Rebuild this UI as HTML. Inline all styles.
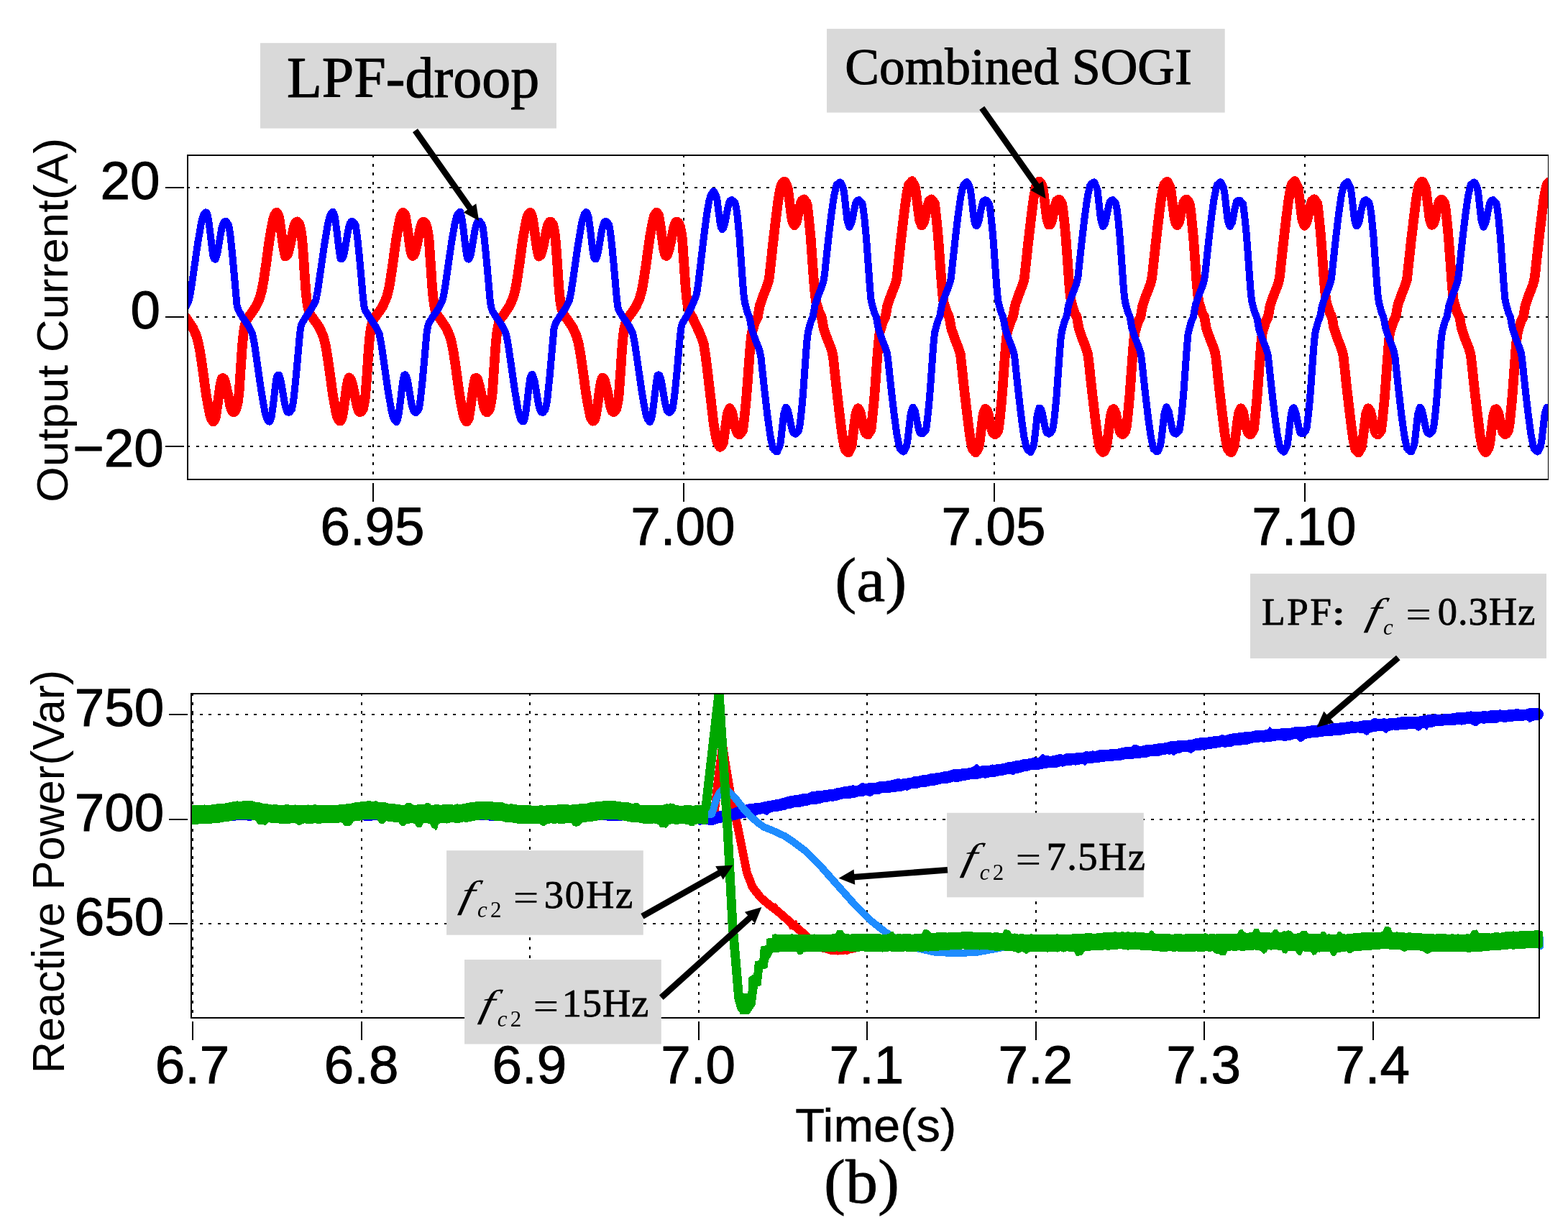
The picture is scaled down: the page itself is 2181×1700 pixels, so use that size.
<!DOCTYPE html>
<html lang="en"><head><meta charset="utf-8">
<title>Output current and reactive power waveforms</title>
<style>
html,body{margin:0;padding:0;background:#fff;}
body{width:2181px;height:1700px;}
svg{display:block;}
.sans{font-family:"Liberation Sans",Arial,Helvetica,sans-serif;fill:#000;}
.tl{stroke:#000;stroke-width:1;stroke-linejoin:round;}
.sb{stroke:#000;stroke-width:1.1;stroke-linejoin:round;}
.se{stroke:#000;stroke-width:0.8;stroke-linejoin:round;}
.serif{font-family:"Liberation Serif","Noto Serif CJK SC","Times New Roman",serif;fill:#000;}
.grid{stroke:#000;stroke-width:2;stroke-dasharray:4 8.6;fill:none;shape-rendering:crispEdges;}
.tick{stroke:#000;stroke-width:2;fill:none;shape-rendering:crispEdges;}
.box{stroke:#000;stroke-width:2;fill:none;shape-rendering:crispEdges;}
.lab{fill:#d9d9d9;}
</style></head><body>
<svg width="2181" height="1700" viewBox="0 0 2181 1700" role="img" aria-label="Output current and reactive power waveforms">
<rect width="2181" height="1700" fill="#fff"/>
<defs>
<clipPath id="ct"><rect x="261" y="215.9" width="1892.5" height="450.9"/></clipPath>
<clipPath id="cb"><rect x="266.2" y="965" width="1882.9" height="450.6"/></clipPath>
</defs>
<g id="plot-a">
<line class="grid" x1="519" y1="215" x2="519" y2="667"/>
<line class="grid" x1="951" y1="215" x2="951" y2="667"/>
<line class="grid" x1="1383" y1="215" x2="1383" y2="667"/>
<line class="grid" x1="1815" y1="215" x2="1815" y2="667"/>
<line class="grid" x1="260" y1="261" x2="2153" y2="261"/>
<line class="grid" x1="260" y1="441" x2="2153" y2="441"/>
<line class="grid" x1="260" y1="621" x2="2153" y2="621"/>
<g clip-path="url(#ct)" fill="none" stroke-linejoin="round" stroke-linecap="round" shape-rendering="crispEdges">
<polyline stroke="#ff0000" stroke-width="13.6" points="253,431.1 254.5,435.6 256,438.6 257.5,440.9 259,442.4 260.5,444.6 262,446.8 263.5,449 265,451.1 266.5,453.3 268,455.6 269.5,458.9 271,462.3 272.5,465.6 274,470.2 275.5,475.7 277,482.5 278.5,490.9 280,500.8 281.5,510.8 283,521.5 284.5,532.6 286,543.5 287.5,553.2 289,561.5 290.5,569.8 292,576.9 293.5,582 295,584.3 296.5,586.6 298,584.6 299.5,582.3 301,573.4 302.5,563.6 304,553 305.5,542.2 307,532.6 308.5,526.7 310,525.9 311.5,527 313,531.3 314.5,536.8 316,543.6 317.5,550.6 319,558.1 320.5,565.8 322,569.7 323.5,572.6 325,573.5 326.5,572.2 328,570.4 329.5,565.6 331,558.4 332.5,546.8 334,524.8 335.5,502.4 337,480.7 338.5,465.2 340,455.5 341.5,448.9 343,445.4 344.5,442.3 346,440.9 347.5,438.8 349,436.6 350.5,434.4 352,432.3 353.5,430.1 355,427.9 356.5,425.3 358,422 359.5,418.7 361,415.3 362.5,410.2 364,404.6 365.5,397.1 367,388.3 368.5,378.3 370,368.4 371.5,357.3 373,346.3 374.5,335.5 376,326.4 377.5,318.1 379,309.8 380.5,303.2 382,299.2 383.5,296.9 385,295.6 386.5,297.8 388,301.6 389.5,310.9 391,321 392.5,331.7 394,342.5 395.5,350.8 397,356.7 398.5,355.6 400,354.5 401.5,349 403,343.3 404.5,336.4 406,329.3 407.5,321.6 409,314.9 410.5,311.1 412,309 413.5,308.3 415,310.1 416.5,311.9 418,318.1 419.5,326.1 421,341.6 422.5,362.4 424,386 425.5,406.1 427,420.1 428.5,428.1 430,434.1 431.5,437.2 433,440.3 434.5,441.4 436,443.6 437.5,445.8 439,447.9 440.5,450.1 442,452.3 443.5,454.5 445,457.4 446.5,460.7 448,464 449.5,467.6 451,473.1 452.5,478.6 454,486.9 455.5,496.2 457,506.1 458.5,516.4 460,527.4 461.5,538.5 463,549.2 464.5,557.6 466,565.9 467.5,574 469,580.2 470.5,583.2 472,585.5 473.5,585.6 475,583.4 476.5,577.7 478,568.4 479.5,557.9 481,547.2 482.5,536.4 484,529.4 485.5,525.3 487,526.5 488.5,528.7 490,534.2 491.5,540.3 493,547.3 494.5,554.6 496,562.2 497.5,567.9 499,571.8 500.5,573.1 502,573 503.5,571.2 505,568.9 506.5,561.8 508,553 509.5,534.3 511,514 512.5,489.4 514,471.4 515.5,458.5 517,452 518.5,446.8 520,443.8 521.5,440.9 523,439.8 524.5,437.6 526,435.5 527.5,433.3 529,431.1 530.5,428.9 532,426.7 533.5,423.5 535,420.2 536.5,416.9 538,412.7 539.5,407.2 541,401 542.5,392.7 544,383 545.5,373 547,362.5 548.5,351.4 550,340.5 551.5,330.3 553,322 554.5,313.7 556,306.2 557.5,300.3 559,298 560.5,295.7 562,296.8 563.5,299 565,306.6 566.5,316 568,326.7 569.5,337.5 571,348.1 572.5,354 574,356.2 575.5,355 577,351.6 578.5,346.1 580,339.6 581.5,332.6 583,325.2 584.5,317.5 586,312.8 587.5,309.4 589,308.5 590.5,309.2 592,311.1 593.5,314.8 595,321.9 596.5,331.5 598,352.9 599.5,374.4 601,397.3 602.5,413.9 604,425 605.5,431.6 607,435.8 608.5,438.8 610,440.9 611.5,442.5 613,444.7 614.5,446.9 616,449.1 617.5,451.3 619,453.5 620.5,455.8 622,459.2 623.5,462.5 625,465.8 626.5,470.5 628,476.1 629.5,483 631,491.5 632.5,501.5 634,511.5 635.5,522.3 637,533.3 638.5,544.2 640,553.7 641.5,562 643,570.3 644.5,577.3 646,582.1 647.5,584.4 649,586.7 650.5,584.4 652,582 653.5,572.7 655,562.9 656.5,552.2 658,541.4 659.5,532.2 661,526.3 662.5,525.9 664,527.1 665.5,531.7 667,537.2 668.5,544 670,551 671.5,558.6 673,566.2 674.5,570 676,572.6 677.5,573.5 679,572.1 680.5,570.3 682,565.1 683.5,557.7 685,545.1 686.5,523.5 688,500.7 689.5,479.5 691,464.3 692.5,455 694,448.5 695.5,445.2 697,442.1 698.5,440.9 700,438.7 701.5,436.5 703,434.3 704.5,432.1 706,429.9 707.5,427.7 709,425.1 710.5,421.8 712,418.4 713.5,415.1 715,409.8 716.5,404.3 718,396.5 719.5,387.6 721,377.6 722.5,367.7 724,356.6 725.5,345.5 727,334.8 728.5,325.8 730,317.5 731.5,309.2 733,302.8 734.5,299.1 736,296.8 737.5,295.7 739,298 740.5,302.2 742,311.6 743.5,321.7 745,332.4 746.5,343.3 748,351.2 749.5,356.7 751,355.6 752.5,354.2 754,348.7 755.5,342.9 757,335.9 758.5,328.8 760,321.1 761.5,314.6 763,310.8 764.5,308.9 766,308.4 767.5,310.2 769,312 770.5,318.6 772,326.8 773.5,343.3 775,363.8 776.5,387.7 778,407.3 779.5,421 781,428.5 782.5,434.3 784,437.4 785.5,440.5 787,441.5 788.5,443.7 790,445.9 791.5,448.1 793,450.3 794.5,452.5 796,454.6 797.5,457.6 799,460.9 800.5,464.2 802,467.9 803.5,473.5 805,479.2 806.5,487.5 808,496.8 809.5,506.8 811,517.1 812.5,528.2 814,539.2 815.5,549.9 817,558.2 818.5,566.5 820,574.4 821.5,580.7 823,583.4 824.5,585.7 826,585.5 827.5,583.2 829,577.1 830.5,567.8 832,557.2 833.5,546.5 835,535.7 836.5,529 838,525.4 839.5,526.5 841,529.1 842.5,534.6 844,540.8 845.5,547.8 847,555.1 848.5,562.7 850,568.2 851.5,572 853,573.1 854.5,572.9 856,571.1 857.5,568.4 859,561.3 860.5,552.3 862,532.9 863.5,512.4 865,488.2 866.5,470.5 868,458.1 869.5,451.5 871,446.6 872.5,443.6 874,440.9 875.5,439.7 877,437.5 878.5,435.3 880,433.1 881.5,430.9 883,428.8 884.5,426.6 886,423.3 887.5,420 889,416.7 890.5,412.4 892,406.8 893.5,400.4 895,392.1 896.5,382.3 898,372.3 899.5,361.8 901,350.7 902.5,339.8 904,329.7 905.5,321.4 907,313.1 908.5,305.7 910,300.1 911.5,297.8 913,295.5 914.5,296.9 916,299.2 917.5,307.2 919,316.7 920.5,327.4 922,338.2 923.5,348.5 925,354.3 926.5,356.1 928,355 929.5,351.2 931,345.7 932.5,339.2 934,332.2 935.5,324.7 937,317 938.5,312.6 940,309.3 941.5,308.4 943,309.4 944.5,311.2 946,315.3 947.5,322.4 949,332.1 950.5,354.3 952,375.8 953.5,398.1 955,414.1 956.5,424.7 958,430.8 959.5,435.2 961,438.2 962.5,440.7 964,442.9 965.5,446.9 967,450 968.5,453.1 970,456.2 971.5,459.4 973,462.6 974.5,466.4 976,470.3 977.5,474.8 979,479.4 980.5,489.2 982,499.7 983.5,511.6 985,524.2 986.5,536.8 988,549.5 989.5,562.5 991,575.2 992.5,587.9 994,597.4 995.5,606.5 997,612.8 998.5,616.9 1000,620.3 1001.5,621.9 1003,620.8 1004.5,619 1006,615.8 1007.5,605.3 1009,594.6 1010.5,583.8 1012,574.8 1013.5,571.1 1015,568.1 1016.5,570.4 1018,572.8 1019.5,579.2 1021,586.7 1022.5,592.7 1024,598.3 1025.5,602.3 1027,603.4 1028.5,604.5 1030,603.1 1031.5,601 1033,598.9 1034.5,588.7 1036,575.1 1037.5,560.3 1039,542.9 1040.5,522.8 1042,502.4 1043.5,482.5 1045,467.6 1046.5,460.3 1048,455.6 1049.5,450.8 1051,446.3 1052.5,443.7 1054,441.1 1055.5,432.4 1057,424.4 1058.5,420.2 1060,416 1061.5,411.7 1063,407.8 1064.5,404 1066,400.3 1067.5,396 1069,391.2 1070.5,382.3 1072,367.9 1073.5,354.2 1075,340.4 1076.5,327.2 1078,314.6 1079.5,301.9 1081,290.1 1082.5,278.3 1084,269.3 1085.5,261.7 1087,256.6 1088.5,254.9 1090,253.2 1091.5,252.6 1093,255.5 1094.5,258.4 1096,262.7 1097.5,274.6 1099,286.4 1100.5,298.3 1102,307.3 1103.5,311.1 1105,313.4 1106.5,311 1108,308.6 1109.5,301.1 1111,293.5 1112.5,287.7 1114,282 1115.5,279.1 1117,278.1 1118.5,277.4 1120,279.5 1121.5,281.6 1123,285.6 1124.5,298.9 1126,313.7 1127.5,328.9 1129,349.4 1130.5,370.1 1132,391.1 1133.5,408.2 1135,419.7 1136.5,424.6 1138,429.4 1139.5,434.3 1141,437.4 1142.5,440.1 1144,447.3 1145.5,456.6 1147,460.9 1148.5,465.2 1150,469.5 1151.5,473.5 1153,477.2 1154.5,481 1156,485 1157.5,489.9 1159,497.4 1160.5,511.8 1162,525.6 1163.5,539.3 1165,552.7 1166.5,565.3 1168,578 1169.5,589.9 1171,601.7 1172.5,611.3 1174,618.9 1175.5,625 1177,626.6 1178.5,628.3 1180,629.7 1181.5,626.8 1183,623.8 1184.5,620.9 1186,609 1187.5,597.1 1189,585.2 1190.5,575.1 1192,571.3 1193.5,568 1195,570.4 1196.5,572.8 1198,579.6 1199.5,587.2 1201,593.2 1202.5,598.9 1204,602.5 1205.5,603.6 1207,604.7 1208.5,602.6 1210,600.5 1211.5,598.2 1213,584.9 1214.5,570.4 1216,555.2 1217.5,535.5 1219,514.8 1220.5,493.9 1222,475.9 1223.5,462.8 1225,458 1226.5,453.1 1228,448.2 1229.5,444.8 1231,442.1 1232.5,435.9 1234,426.5 1235.5,421.6 1237,417.3 1238.5,413 1240,408.9 1241.5,405.2 1243,401.4 1244.5,397.5 1246,392.6 1247.5,386.6 1249,372.2 1250.5,358.3 1252,344.5 1253.5,331 1255,318.4 1256.5,305.7 1258,293.7 1259.5,281.9 1261,271.6 1262.5,264 1264,257.1 1265.5,255.4 1267,253.7 1268.5,252 1270,254.6 1271.5,257.5 1273,260.5 1274.5,271 1276,282.9 1277.5,294.8 1279,306.1 1280.5,309.9 1282,313.7 1283.5,311.8 1285,309.4 1286.5,303.4 1288,295.8 1289.5,289.4 1291,283.7 1292.5,279.5 1294,278.4 1295.5,277.3 1297,278.9 1298.5,281 1300,283.1 1301.5,294.9 1303,309.1 1304.5,324.3 1306,343.2 1307.5,363.9 1309,384.8 1310.5,403.6 1312,418.2 1313.5,423.1 1315,428 1316.5,432.8 1318,436.6 1319.5,439.3 1321,444.5 1322.5,453.9 1324,459.6 1325.5,463.9 1327,468.2 1328.5,472.3 1330,476.1 1331.5,479.8 1333,483.6 1334.5,488.4 1336,493.3 1337.5,507.5 1339,521.5 1340.5,535.2 1342,548.8 1343.5,561.5 1345,574.2 1346.5,586.4 1348,598.2 1349.5,609 1351,616.7 1352.5,624.3 1354,626.1 1355.5,627.8 1357,629.5 1358.5,627.6 1360,624.7 1361.5,621.8 1363,612.6 1364.5,600.7 1366,588.8 1367.5,576.9 1369,572.4 1370.5,568.6 1372,569.7 1373.5,572.1 1375,577.3 1376.5,584.9 1378,591.5 1379.5,597.2 1381,602.2 1382.5,603.3 1384,604.3 1385.5,603.3 1387,601.1 1388.5,599 1390,588.8 1391.5,575 1393,559.8 1394.5,541.7 1396,521 1397.5,500.2 1399,480.4 1400.5,465.2 1402,459.4 1403.5,454.6 1405,449.7 1406.5,445.6 1408,442.9 1409.5,438.7 1411,429.3 1412.5,422.9 1414,418.6 1415.5,414.3 1417,410 1418.5,406.3 1420,402.5 1421.5,398.8 1423,394.1 1424.5,389.2 1426,376.5 1427.5,362.4 1429,348.7 1430.5,334.9 1432,322.2 1433.5,309.5 1435,297.2 1436.5,285.4 1438,273.9 1439.5,266.3 1441,258.7 1442.5,255.9 1444,254.2 1445.5,252.5 1447,253.7 1448.5,256.7 1450,259.6 1451.5,267.4 1453,279.3 1454.5,291.2 1456,303.1 1457.5,308.8 1459,312.6 1460.5,312.5 1462,310.1 1463.5,305.7 1465,298.1 1466.5,291.2 1468,285.5 1469.5,279.8 1471,278.7 1472.5,277.6 1474,278.2 1475.5,280.3 1477,282.5 1478.5,291 1480,304.5 1481.5,319.8 1483,337 1484.5,357.7 1486,378.5 1487.5,399.1 1489,414.3 1490.5,421.6 1492,426.5 1493.5,431.4 1495,435.8 1496.5,438.5 1498,441.7 1499.5,451.1 1501,458.3 1502.5,462.6 1504,466.9 1505.5,471.2 1507,475 1508.5,478.7 1510,482.5 1511.5,487 1513,491.9 1514.5,503.1 1516,517.4 1517.5,531.1 1519,544.8 1520.5,557.7 1522,570.4 1523.5,582.8 1525,594.6 1526.5,606.4 1528,614.4 1529.5,622 1531,625.6 1532.5,627.3 1534,629 1535.5,628.5 1537,625.6 1538.5,622.7 1540,616.2 1541.5,604.3 1543,592.4 1544.5,580.5 1546,573.6 1547.5,569.8 1549,569 1550.5,571.4 1552,575 1553.5,582.6 1555,589.8 1556.5,595.5 1558,601.2 1559.5,602.9 1561,604 1562.5,603.9 1564,601.8 1565.5,599.6 1567,592.8 1568.5,579.5 1570,564.3 1571.5,547.9 1573,527.2 1574.5,506.4 1576,485.5 1577.5,469.8 1579,460.9 1580.5,456 1582,451.1 1583.5,446.4 1585,443.7 1586.5,441.1 1588,432.1 1589.5,424.1 1591,419.8 1592.5,415.5 1594,411.2 1595.5,407.4 1597,403.7 1598.5,399.9 1600,395.6 1601.5,390.7 1603,380.8 1604.5,366.5 1606,352.8 1607.5,339.1 1609,326 1610.5,313.3 1612,300.7 1613.5,288.9 1615,277.2 1616.5,268.6 1618,261 1619.5,256.4 1621,254.7 1622.5,253 1624,252.9 1625.5,255.8 1627,258.7 1628.5,263.9 1630,275.7 1631.5,287.6 1633,299.5 1634.5,307.7 1636,311.5 1637.5,313.2 1639,310.8 1640.5,307.9 1642,300.3 1643.5,292.9 1645,287.2 1646.5,281.5 1648,279 1649.5,277.9 1651,277.6 1652.5,279.7 1654,281.8 1655.5,287 1657,300.3 1658.5,315.2 1660,330.8 1661.5,351.5 1663,372.2 1664.5,393.1 1666,409.7 1667.5,420.2 1669,425.1 1670.5,429.9 1672,434.8 1673.5,437.7 1675,440.3 1676.5,448.2 1678,457 1679.5,461.3 1681,465.6 1682.5,469.9 1684,473.8 1685.5,477.6 1687,481.3 1688.5,485.5 1690,490.4 1691.5,498.8 1693,513.2 1694.5,527 1696,540.7 1697.5,553.9 1699,566.6 1700.5,579.3 1702,591.1 1703.5,602.9 1705,612.1 1706.5,619.7 1708,625.1 1709.5,626.8 1711,628.5 1712.5,629.4 1714,626.5 1715.5,623.5 1717,619.7 1718.5,607.8 1720,595.9 1721.5,584.1 1723,574.7 1724.5,570.9 1726,568.2 1727.5,570.6 1729,573 1730.5,580.3 1732,587.9 1733.5,593.8 1735,599.5 1736.5,602.6 1738,603.7 1739.5,604.5 1741,602.4 1742.5,600.3 1744,596.8 1745.5,583.5 1747,568.9 1748.5,553.7 1750,533.4 1751.5,512.7 1753,491.8 1754.5,474.4 1756,462.3 1757.5,457.5 1759,452.6 1760.5,447.7 1762,444.5 1763.5,441.9 1765,435 1766.5,425.6 1768,421.1 1769.5,416.8 1771,412.5 1772.5,408.5 1774,404.8 1775.5,401 1777,397 1778.5,392.1 1780,385.2 1781.5,370.7 1783,356.9 1784.5,343.2 1786,329.8 1787.5,317.1 1789,304.4 1790.5,292.5 1792,280.7 1793.5,270.8 1795,263.2 1796.5,256.9 1798,255.2 1799.5,253.5 1801,252 1802.5,254.9 1804,257.8 1805.5,260.8 1807,272.2 1808.5,284.1 1810,296 1811.5,306.5 1813,310.3 1814.5,313.9 1816,311.5 1817.5,309.1 1819,302.6 1820.5,295 1822,288.9 1823.5,283.2 1825,279.4 1826.5,278.3 1828,277.2 1829.5,279.1 1831,281.2 1832.5,283.3 1834,296.3 1835.5,310.6 1837,325.9 1838.5,345.3 1840,366 1841.5,386.9 1843,405.2 1844.5,418.7 1846,423.6 1847.5,428.5 1849,433.3 1850.5,436.9 1852,439.5 1853.5,445.4 1855,454.8 1856.5,460 1858,464.3 1859.5,468.6 1861,472.7 1862.5,476.5 1864,480.2 1865.5,484 1867,488.9 1868.5,494.5 1870,508.9 1871.5,522.8 1873,536.6 1874.5,550.1 1876,562.8 1877.5,575.5 1879,587.5 1880.5,599.3 1882,609.8 1883.5,617.4 1885,624.6 1886.5,626.3 1888,628 1889.5,629.7 1891,627.3 1892.5,624.4 1894,621.5 1895.5,611.4 1897,599.5 1898.5,587.6 1900,575.8 1901.5,572 1903,568.2 1904.5,569.9 1906,572.3 1907.5,578 1909,585.6 1910.5,592.1 1912,597.8 1913.5,602.3 1915,603.4 1916.5,604.5 1918,603 1919.5,600.9 1921,598.8 1922.5,587.5 1924,573.4 1925.5,558.2 1927,539.6 1928.5,519 1930,498.1 1931.5,478.9 1933,463.8 1934.5,458.9 1936,454.1 1937.5,449.2 1939,445.3 1940.5,442.7 1942,437.8 1943.5,428.4 1945,422.4 1946.5,418.1 1948,413.8 1949.5,409.7 1951,405.9 1952.5,402.2 1954,398.4 1955.5,393.6 1957,388.7 1958.5,375.1 1960,361 1961.5,347.3 1963,333.6 1964.5,320.9 1966,308.2 1967.5,296 1969,284.2 1970.5,273.1 1972,265.5 1973.5,257.9 1975,255.7 1976.5,254.1 1978,252.4 1979.5,254 1981,256.9 1982.5,259.9 1984,268.6 1985.5,280.5 1987,292.4 1988.5,304.3 1990,309.2 1991.5,313 1993,312.2 1994.5,309.8 1996,304.9 1997.5,297.3 1999,290.6 2000.5,284.9 2002,279.7 2003.5,278.6 2005,277.5 2006.5,278.4 2008,280.6 2009.5,282.7 2011,292.3 2012.5,306.1 2014,321.3 2015.5,339.1 2017,359.7 2018.5,380.6 2020,400.6 2021.5,415.8 2023,422.1 2024.5,427 2026,431.9 2027.5,436.1 2029,438.7 2030.5,442.6 2032,452 2033.5,458.7 2035,463 2036.5,467.3 2038,471.6 2039.5,475.3 2041,479.1 2042.5,482.8 2044,487.5 2045.5,492.3 2047,504.6 2048.5,518.7 2050,532.5 2051.5,546.2 2053,559 2054.5,571.7 2056,584 2057.5,595.8 2059,607.5 2060.5,615.1 2062,622.7 2063.5,625.8 2065,627.5 2066.5,629.2 2068,628.2 2069.5,625.3 2071,622.4 2072.5,615 2074,603.1 2075.5,591.2 2077,579.3 2078.5,573.2 2080,569.4 2081.5,569.2 2083,571.6 2084.5,575.8 2086,583.4 2087.5,590.4 2089,596.1 2090.5,601.8 2092,603 2093.5,604.1 2095,603.7 2096.5,601.6 2098,599.4 2099.5,591.5 2101,578 2102.5,562.8 2104,545.8 2105.5,525.2 2107,504.3 2108.5,483.5 2110,468.3 2111.5,460.4 2113,455.5 2114.5,450.7 2116,446.1 2117.5,443.5 2119,440.6 2120.5,431.2 2122,423.7 2123.5,419.4 2125,415.1 2126.5,410.8 2128,407 2129.5,403.3 2131,399.5 2132.5,395.1 2134,390.2 2135.5,379.4 2137,365.1 2138.5,351.4 2140,337.7 2141.5,324.7 2143,312 2144.5,299.6 2146,287.8 2147.5,276 2149,267.8 2150.5,260.2 2152,256.3 2153.5,254.6 2155,252.9 2156.5,253.1 2158,256.1 2159.5,259 2161,265"/>
<polyline stroke="#0000ff" stroke-width="10" points="253,435.1 254.5,432.9 256,430.6 257.5,428.4 259,425.6 260.5,422.6 262,419.7 263.5,414.7 265,406.8 266.5,397.9 268,387.5 269.5,377.2 271,366.8 272.5,356.3 274,345.8 275.5,335.9 277,327.1 278.5,318.4 280,309.6 281.5,304.2 283,298.8 284.5,297.1 286,295.4 287.5,295.6 289,300.5 290.5,309.4 292,320.6 293.5,333.5 295,346.5 296.5,356.1 298,360.2 299.5,360.8 301,357 302.5,352.1 304,343.1 305.5,334.1 307,325.1 308.5,316.8 310,312.3 311.5,308.5 313,308.1 314.5,308 316,310 317.5,312 319,317.9 320.5,328.3 322,342.7 323.5,357.2 325,373.9 326.5,390.6 328,407.7 329.5,424.1 331,429.9 332.5,433.4 334,435.7 335.5,438.1 337,440.9 338.5,442.9 340,444.9 341.5,447.1 343,449.4 344.5,451.6 346,453.9 347.5,456.8 349,459.8 350.5,462.7 352,468.7 353.5,476.6 355,486 356.5,496.4 358,506.7 359.5,517.1 361,527.6 362.5,538 364,547.7 365.5,556.4 367,565.2 368.5,573.3 370,578.7 371.5,583.4 373,585.1 374.5,586.7 376,585.2 377.5,580.3 379,570.1 380.5,558.8 382,545.7 383.5,533 385,523.9 386.5,521.5 388,521.5 389.5,525.6 391,531.5 392.5,540.5 394,549.5 395.5,558.5 397,565.9 398.5,570.4 400,573.4 401.5,573.8 403,573.4 404.5,571.4 406,569.4 407.5,561.9 409,550.6 410.5,536.2 412,521.2 413.5,504.6 415,487.8 416.5,470.7 418,456.5 419.5,450.8 421,447.9 422.5,445.6 424,443.1 425.5,440.5 427,438.5 428.5,436.5 430,434.2 431.5,432 433,429.7 434.5,427.3 436,424.4 437.5,421.4 439,418.5 440.5,411.5 442,403.6 443.5,393.7 445,383.4 446.5,373 448,362.6 449.5,352.1 451,341.7 452.5,332.4 454,323.6 455.5,314.9 457,307.4 458.5,302 460,298.1 461.5,296.4 463,294.7 464.5,297.5 466,302.7 467.5,313.9 469,325.6 470.5,338.7 472,350.7 473.5,359.7 475,360.4 476.5,359.4 478,355.4 479.5,348.5 481,339.5 482.5,330.5 484,321.5 485.5,315 487,310.5 488.5,308.3 490,307.9 491.5,308.8 493,310.8 494.5,312.8 496,321.9 497.5,334 499,348.5 500.5,363.9 502,380.5 503.5,397.4 505,414.5 506.5,426.4 508,432 509.5,434.3 511,436.7 512.5,439.2 514,441.7 515.5,443.7 517,445.8 518.5,448 520,450.3 521.5,452.5 523,455 524.5,458 526,461 527.5,463.9 529,471.8 530.5,479.8 532,490.1 533.5,500.5 535,510.9 536.5,521.3 538,531.8 539.5,542.2 541,551.2 542.5,559.9 544,568.7 545.5,575.5 547,580.9 548.5,584.1 550,585.7 551.5,587.4 553,583.3 554.5,576.9 556,565.6 557.5,553.6 559,540.5 560.5,529.3 562,521.8 563.5,521.3 565,523.2 566.5,527.2 568,535.1 569.5,544.1 571,553.1 572.5,562.1 574,567.7 575.5,572.2 577,573.5 578.5,574 580,572.6 581.5,570.6 583,568 584.5,557.8 586,544.9 587.5,530.5 589,514.6 590.5,497.9 592,481 593.5,463.9 595,454.2 596.5,449.3 598,447 599.5,444.7 601,442 602.5,439.7 604,437.7 605.5,435.6 607,433.3 608.5,431.1 610,428.8 611.5,426.2 613,423.2 614.5,420.2 616,416.3 617.5,408.4 619,399.9 620.5,389.6 622,379.2 623.5,368.8 625,358.4 626.5,347.9 628,337.6 629.5,328.9 631,320.1 632.5,311.4 634,305.3 635.5,299.9 637,297.4 638.5,295.7 640,294.6 641.5,299.5 643,307.2 644.5,318.4 646,330.9 647.5,343.9 649,354.3 650.5,360.1 652,360.7 653.5,357.8 655,353.7 656.5,344.9 658,335.9 659.5,326.9 661,317.9 662.5,313.2 664,308.7 665.5,308.2 667,307.7 668.5,309.6 670,311.6 671.5,315.8 673,326 674.5,339.8 676,354.2 677.5,370.5 679,387.2 680.5,404.2 682,421.4 683.5,428.7 685,432.9 686.5,435.3 688,437.6 689.5,440.3 691,442.5 692.5,444.5 694,446.7 695.5,448.9 697,451.2 698.5,453.4 700,456.2 701.5,459.2 703,462.1 704.5,467.1 706,475 707.5,483.9 709,494.3 710.5,504.6 712,515 713.5,525.5 715,536 716.5,545.9 718,554.7 719.5,563.4 721,572.2 722.5,577.6 724,583 725.5,584.7 727,586.4 728.5,586.2 730,581.3 731.5,572.4 733,561.2 734.5,548.3 736,535.3 737.5,525.7 739,521.6 740.5,521 742,524.8 743.5,529.7 745,538.7 746.5,547.7 748,556.7 749.5,565 751,569.5 752.5,573.3 754,573.7 755.5,573.8 757,571.8 758.5,569.8 760,563.9 761.5,553.5 763,539.1 764.5,524.6 766,507.9 767.5,491.2 769,474.1 770.5,457.7 772,451.9 773.5,448.4 775,446.1 776.5,443.7 778,440.9 779.5,438.9 781,436.9 782.5,434.7 784,432.4 785.5,430.2 787,427.9 788.5,425 790,422 791.5,419.1 793,413.1 794.5,405.2 796,395.8 797.5,385.4 799,375.1 800.5,364.7 802,354.2 803.5,343.8 805,334.1 806.5,325.4 808,316.6 809.5,308.5 811,303.1 812.5,298.4 814,296.7 815.5,295.1 817,296.6 818.5,301.5 820,311.7 821.5,323 823,336.1 824.5,348.8 826,357.9 827.5,360.3 829,360.3 830.5,356.2 832,350.3 833.5,341.3 835,332.3 836.5,323.3 838,315.9 839.5,311.4 841,308.4 842.5,308 844,308.4 845.5,310.4 847,312.4 848.5,319.9 850,331.2 851.5,345.6 853,360.6 854.5,377.2 856,394 857.5,411.1 859,425.3 860.5,431 862,433.9 863.5,436.2 865,438.7 866.5,441.3 868,443.3 869.5,445.3 871,447.6 872.5,449.8 874,452.1 875.5,454.5 877,457.4 878.5,460.4 880,463.3 881.5,470.3 883,478.2 884.5,488.1 886,498.4 887.5,508.8 889,519.2 890.5,529.7 892,540.1 893.5,549.4 895,558.2 896.5,566.9 898,574.4 899.5,579.8 901,583.7 902.5,585.4 904,587.1 905.5,584.3 907,579.1 908.5,567.9 910,556.2 911.5,543.1 913,531.1 914.5,522.1 916,521.4 917.5,522.4 919,526.4 920.5,533.3 922,542.3 923.5,551.3 925,560.3 926.5,566.8 928,571.3 929.5,573.5 931,573.9 932.5,573 934,571 935.5,569 937,559.9 938.5,547.8 940,533.3 941.5,517.9 943,501.3 944.5,484.4 946,467.3 947.5,455.4 949,449.8 950.5,447.5 952,445.1 953.5,442.6 955,439.9 956.5,437.2 958,434.4 959.5,431.5 961,428.5 962.5,425.4 964,422.1 965.5,418.5 967,414.7 968.5,410.6 970,402.9 971.5,392.1 973,379.7 974.5,367.2 976,354.6 977.5,342.1 979,329.5 980.5,317.5 982,306.5 983.5,295.7 985,286.8 986.5,278.8 988,273.5 989.5,270.5 991,268 992.5,265.6 994,268.1 995.5,271.1 997,275 998.5,286.1 1000,298 1001.5,310 1003,316.4 1004.5,319.2 1006,317.7 1007.5,313.7 1009,307.5 1010.5,298.4 1012,290.5 1013.5,284.2 1015,279.6 1016.5,278.9 1018,278.2 1019.5,279.2 1021,280.8 1022.5,282.4 1024,288.2 1025.5,299.7 1027,314.1 1028.5,329.5 1030,350.2 1031.5,371.1 1033,392.2 1034.5,410.2 1036,421 1037.5,426.6 1039,432.3 1040.5,436.7 1042,439.7 1043.5,446.6 1045,456 1046.5,460.6 1048,464.9 1049.5,469.3 1051,473.3 1052.5,477.1 1054,480.8 1055.5,484.9 1057,489.8 1058.5,497.1 1060,511.6 1061.5,525.5 1063,539.3 1064.5,552.7 1066,565.5 1067.5,578.2 1069,589.2 1070.5,600 1072,609.6 1073.5,616.5 1075,623.4 1076.5,625.5 1078,626.8 1079.5,628 1081,628.4 1082.5,625.1 1084,621.9 1085.5,617.3 1087,604.1 1088.5,590.7 1090,577.1 1091.5,571.2 1093,566.7 1094.5,568.4 1096,571.2 1097.5,577.3 1099,585.3 1100.5,592.5 1102,598.8 1103.5,602.3 1105,603 1106.5,603.7 1108,602.3 1109.5,600.7 1111,599 1112.5,591.3 1114,579.8 1115.5,564.6 1117,548.2 1118.5,527.4 1120,506.5 1121.5,485.4 1123,468.2 1124.5,459.7 1126,454 1127.5,448.4 1129,444.5 1130.5,441.5 1132,433.3 1133.5,424.7 1135,420.3 1136.5,416 1138,411.7 1139.5,407.8 1141,404 1142.5,400.2 1144,395.9 1145.5,391 1147,381.8 1148.5,367.3 1150,353.5 1151.5,339.7 1153,326.5 1154.5,313.8 1156,301.2 1157.5,290.4 1159,279.6 1160.5,270.8 1162,263.9 1163.5,257.2 1165,256 1166.5,254.8 1168,253.5 1169.5,254.1 1171,257.3 1172.5,260.6 1174,267.2 1175.5,280.3 1177,293.8 1178.5,307 1180,311.5 1181.5,315.7 1183,312.8 1184.5,310 1186,302.9 1187.5,294.8 1189,288 1190.5,281.7 1192,279.3 1193.5,278.6 1195,278.2 1196.5,279.8 1198,281.5 1199.5,283.1 1201,292.8 1202.5,304.9 1204,320.2 1205.5,337.8 1207,358.5 1208.5,379.5 1210,400.1 1211.5,416.9 1213,423.3 1214.5,428.9 1216,434.6 1217.5,437.9 1219,440.9 1220.5,450.4 1222,458 1223.5,462.3 1225,466.7 1226.5,471 1228,474.8 1229.5,478.6 1231,482.3 1232.5,486.8 1234,491.7 1235.5,502.9 1237,517.2 1238.5,531 1240,544.8 1241.5,557.8 1243,570.6 1244.5,582.7 1246,593.5 1247.5,604.3 1249,612.3 1250.5,619.3 1252,624.8 1253.5,626 1255,627.3 1256.5,628.5 1258,627.1 1259.5,623.8 1261,620.6 1262.5,612 1264,598.9 1265.5,585.3 1267,573.9 1268.5,569.4 1270,566.7 1271.5,569.5 1273,572.4 1274.5,580.5 1276,588.6 1277.5,595.1 1279,601.4 1280.5,602.6 1282,603.3 1283.5,603.3 1285,601.6 1286.5,600 1288,598.2 1289.5,586.7 1291,573.8 1292.5,558.5 1294,539.9 1295.5,519.1 1297,498.1 1298.5,478.3 1300,463.1 1301.5,457.4 1303,451.8 1304.5,446.3 1306,443.3 1307.5,439 1309,429.6 1310.5,422.9 1312,418.6 1313.5,414.3 1315,410 1316.5,406.3 1318,402.5 1319.5,398.7 1321,394 1322.5,389.1 1324,376 1325.5,361.8 1327,348 1328.5,334.2 1330,321.4 1331.5,308.7 1333,296.9 1334.5,286.1 1336,275.3 1337.5,268.1 1339,261.1 1340.5,256.8 1342,255.5 1343.5,254.3 1345,253 1346.5,255.4 1348,258.6 1349.5,261.9 1351,272.4 1352.5,285.6 1354,299.3 1355.5,308.8 1357,313.3 1358.5,314.5 1360,311.7 1361.5,307.8 1363,299.7 1364.5,291.8 1366,285.5 1367.5,279.7 1369,279 1370.5,278.3 1372,278.8 1373.5,280.5 1375,282.1 1376.5,285.9 1378,297.4 1379.5,311.1 1381,326.4 1382.5,346.1 1384,366.9 1385.5,387.9 1387,406.8 1388.5,419.9 1390,425.5 1391.5,431.2 1393,436.1 1394.5,439.1 1396,444.7 1397.5,454.1 1399,459.7 1400.5,464.1 1402,468.4 1403.5,472.5 1405,476.3 1406.5,480.1 1408,483.9 1409.5,488.8 1411,494.2 1412.5,508.7 1414,522.7 1415.5,536.5 1417,550.2 1418.5,562.9 1420,575.7 1421.5,587.1 1423,597.8 1424.5,608.2 1426,615.1 1427.5,622 1429,625.3 1430.5,626.5 1432,627.8 1433.5,629 1435,625.8 1436.5,622.5 1438,619.3 1439.5,606.8 1441,593.5 1442.5,579.8 1444,572.1 1445.5,567.6 1447,567.8 1448.5,570.6 1450,575.6 1451.5,583.7 1453,591.3 1454.5,597.6 1456,602.2 1457.5,602.9 1459,603.6 1460.5,602.6 1462,601 1463.5,599.4 1465,593.6 1466.5,582.1 1468,567.7 1469.5,552.3 1471,531.6 1472.5,510.7 1474,489.6 1475.5,471.6 1477,460.8 1478.5,455.2 1480,449.5 1481.5,445.1 1483,442.1 1484.5,435.2 1486,425.8 1487.5,421.2 1489,416.9 1490.5,412.5 1492,408.5 1493.5,404.7 1495,401 1496.5,396.9 1498,392 1499.5,384.7 1501,370.2 1502.5,356.3 1504,342.5 1505.5,329.1 1507,316.3 1508.5,303.6 1510,292.6 1511.5,281.8 1513,272.2 1514.5,265.3 1516,258.4 1517.5,256.3 1519,255 1520.5,253.8 1522,253.4 1523.5,256.7 1525,259.9 1526.5,264.5 1528,277.7 1529.5,291.1 1531,304.7 1532.5,310.6 1534,315.1 1535.5,313.4 1537,310.6 1538.5,304.5 1540,296.5 1541.5,289.3 1543,283 1544.5,279.5 1546,278.8 1547.5,278.1 1549,279.5 1550.5,281.1 1552,282.8 1553.5,290.5 1555,302 1556.5,317.2 1558,333.6 1559.5,354.4 1561,375.3 1562.5,396.4 1564,413.6 1565.5,422.1 1567,427.8 1568.5,433.4 1570,437.3 1571.5,440.3 1573,448.5 1574.5,457.1 1576,461.5 1577.5,465.8 1579,470.1 1580.5,474 1582,477.8 1583.5,481.6 1585,485.9 1586.5,490.8 1588,500 1589.5,514.5 1591,528.3 1592.5,542.1 1594,555.3 1595.5,568 1597,580.6 1598.5,591.4 1600,602.2 1601.5,611 1603,617.9 1604.5,624.6 1606,625.8 1607.5,627 1609,628.3 1610.5,627.7 1612,624.5 1613.5,621.2 1615,614.6 1616.5,601.5 1618,588 1619.5,574.8 1621,570.3 1622.5,566.1 1624,569 1625.5,571.8 1627,578.9 1628.5,587 1630,593.8 1631.5,600.1 1633,602.5 1634.5,603.2 1636,603.6 1637.5,602 1639,600.3 1640.5,598.7 1642,589 1643.5,576.9 1645,561.6 1646.5,544 1648,523.3 1649.5,502.3 1651,481.7 1652.5,464.9 1654,458.5 1655.5,452.9 1657,447.2 1658.5,443.9 1660,440.9 1661.5,431.4 1663,423.8 1664.5,419.5 1666,415.1 1667.5,410.8 1669,407 1670.5,403.2 1672,399.5 1673.5,395 1675,390.1 1676.5,378.9 1678,364.6 1679.5,350.8 1681,337 1682.5,324 1684,311.2 1685.5,299.1 1687,288.3 1688.5,277.5 1690,269.5 1691.5,262.5 1693,257 1694.5,255.8 1696,254.5 1697.5,253.3 1699,254.7 1700.5,258 1702,261.2 1703.5,269.8 1705,282.9 1706.5,296.5 1708,307.9 1709.5,312.4 1711,315.1 1712.5,312.3 1714,309.4 1715.5,301.3 1717,293.2 1718.5,286.7 1720,280.4 1721.5,279.2 1723,278.5 1724.5,278.5 1726,280.2 1727.5,281.8 1729,283.6 1730.5,295.1 1732,308 1733.5,323.3 1735,341.9 1736.5,362.7 1738,383.7 1739.5,403.5 1741,418.7 1742.5,424.4 1744,430 1745.5,435.5 1747,438.5 1748.5,442.8 1750,452.2 1751.5,458.9 1753,463.2 1754.5,467.5 1756,471.8 1757.5,475.5 1759,479.3 1760.5,483.1 1762,487.8 1763.5,492.7 1765,505.8 1766.5,520 1768,533.8 1769.5,547.6 1771,560.4 1772.5,573.1 1774,584.9 1775.5,595.7 1777,606.5 1778.5,613.7 1780,620.7 1781.5,625 1783,626.3 1784.5,627.5 1786,628.8 1787.5,626.4 1789,623.2 1790.5,619.9 1792,609.4 1793.5,596.2 1795,582.5 1796.5,573 1798,568.5 1799.5,567.3 1801,570.1 1802.5,574 1804,582.1 1805.5,590 1807,596.3 1808.5,602.1 1810,602.8 1811.5,603.5 1813,603 1814.5,601.3 1816,599.7 1817.5,595.9 1819,584.4 1820.5,570.7 1822,555.4 1823.5,535.7 1825,514.9 1826.5,493.9 1828,475 1829.5,461.9 1831,456.3 1832.5,450.6 1834,445.7 1835.5,442.7 1837,437.1 1838.5,427.7 1840,422.1 1841.5,417.7 1843,413.4 1844.5,409.3 1846,405.5 1847.5,401.7 1849,397.9 1850.5,393 1852,387.6 1853.5,373.1 1855,359.1 1856.5,345.3 1858,331.6 1859.5,318.9 1861,306.1 1862.5,294.7 1864,284 1865.5,273.6 1867,266.7 1868.5,259.8 1870,256.5 1871.5,255.3 1873,254 1874.5,252.8 1876,256 1877.5,259.3 1879,262.5 1880.5,275 1882,288.3 1883.5,302 1885,309.7 1886.5,314.2 1888,314 1889.5,311.2 1891,306.2 1892.5,298.1 1894,290.5 1895.5,284.2 1897,279.6 1898.5,278.9 1900,278.2 1901.5,279.2 1903,280.8 1904.5,282.4 1906,288.2 1907.5,299.7 1909,314.1 1910.5,329.5 1912,350.2 1913.5,371.1 1915,392.2 1916.5,410.2 1918,421 1919.5,426.6 1921,432.3 1922.5,436.7 1924,439.7 1925.5,446.6 1927,456 1928.5,460.6 1930,464.9 1931.5,469.3 1933,473.3 1934.5,477.1 1936,480.8 1937.5,484.9 1939,489.8 1940.5,497.1 1942,511.6 1943.5,525.5 1945,539.3 1946.5,552.7 1948,565.5 1949.5,578.2 1951,589.2 1952.5,600 1954,609.6 1955.5,616.5 1957,623.4 1958.5,625.5 1960,626.8 1961.5,628 1963,628.4 1964.5,625.1 1966,621.9 1967.5,617.3 1969,604.1 1970.5,590.7 1972,577.1 1973.5,571.2 1975,566.7 1976.5,568.4 1978,571.2 1979.5,577.3 1981,585.3 1982.5,592.5 1984,598.8 1985.5,602.3 1987,603 1988.5,603.7 1990,602.3 1991.5,600.7 1993,599 1994.5,591.3 1996,579.8 1997.5,564.6 1999,548.2 2000.5,527.4 2002,506.5 2003.5,485.4 2005,468.2 2006.5,459.7 2008,454 2009.5,448.4 2011,444.5 2012.5,441.5 2014,433.3 2015.5,424.7 2017,420.3 2018.5,416 2020,411.7 2021.5,407.8 2023,404 2024.5,400.2 2026,395.9 2027.5,391 2029,381.8 2030.5,367.3 2032,353.5 2033.5,339.7 2035,326.5 2036.5,313.8 2038,301.2 2039.5,290.4 2041,279.6 2042.5,270.8 2044,263.9 2045.5,257.2 2047,256 2048.5,254.8 2050,253.5 2051.5,254.1 2053,257.3 2054.5,260.6 2056,267.2 2057.5,280.3 2059,293.8 2060.5,307 2062,311.5 2063.5,315.7 2065,312.8 2066.5,310 2068,302.9 2069.5,294.8 2071,288 2072.5,281.7 2074,279.3 2075.5,278.6 2077,278.2 2078.5,279.8 2080,281.5 2081.5,283.1 2083,292.8 2084.5,304.9 2086,320.2 2087.5,337.8 2089,358.5 2090.5,379.5 2092,400.1 2093.5,416.9 2095,423.3 2096.5,428.9 2098,434.6 2099.5,437.9 2101,440.9 2102.5,450.4 2104,458 2105.5,462.3 2107,466.7 2108.5,471 2110,474.8 2111.5,478.6 2113,482.3 2114.5,486.8 2116,491.7 2117.5,502.9 2119,517.2 2120.5,531 2122,544.8 2123.5,557.8 2125,570.6 2126.5,582.7 2128,593.5 2129.5,604.3 2131,612.3 2132.5,619.3 2134,624.8 2135.5,626 2137,627.3 2138.5,628.5 2140,627.1 2141.5,623.8 2143,620.6 2144.5,612 2146,598.9 2147.5,585.3 2149,573.9 2150.5,569.4 2152,566.7 2153.5,569.5 2155,572.4 2156.5,580.5 2158,588.6 2159.5,595.1 2161,601.4"/>
</g>
<line class="box" x1="260" y1="216" x2="2154" y2="216"/>
<line class="box" x1="260" y1="667" x2="2154" y2="667"/>
<line class="box" x1="261" y1="215" x2="261" y2="668"/>
<line class="box" x1="2153.5" y1="215" x2="2153.5" y2="668" style="stroke-width:1"/>
<line class="tick" x1="519" y1="672" x2="519" y2="698"/>
<line class="tick" x1="951" y1="672" x2="951" y2="698"/>
<line class="tick" x1="1383" y1="672" x2="1383" y2="698"/>
<line class="tick" x1="1815" y1="672" x2="1815" y2="698"/>
<line class="tick" x1="230" y1="261" x2="256" y2="261"/>
<line class="tick" x1="230" y1="441" x2="256" y2="441"/>
<line class="tick" x1="230" y1="621" x2="256" y2="621"/>
<text class="sans tl" font-size="74.6" text-anchor="middle" x="518" y="758.0">6.95</text>
<text class="sans tl" font-size="74.6" text-anchor="middle" x="949.9" y="758.0">7.00</text>
<text class="sans tl" font-size="74.6" text-anchor="middle" x="1382" y="758.0">7.05</text>
<text class="sans tl" font-size="74.6" text-anchor="middle" x="1813.8" y="758.0">7.10</text>
<text class="sans tl" font-size="74.6" text-anchor="end" x="222.5" y="276.7">20</text>
<text class="sans tl" font-size="74.6" text-anchor="end" x="223.1" y="457">0</text>
<text class="sans tl" font-size="74.6" text-anchor="end" x="227.8" y="648.9">−20</text>
<text class="sans" font-size="62" transform="translate(94 698.8) rotate(-90) scale(1.026 1)">Output Current<tspan font-size="64.6" dy="-0.8">(</tspan><tspan dy="0.8">A</tspan><tspan font-size="64.6" dy="-0.8">)</tspan></text>
</g>
<g id="plot-b">
<line class="grid" x1="268" y1="964" x2="268" y2="1416"/>
<line class="grid" x1="503" y1="964" x2="503" y2="1416"/>
<line class="grid" x1="737" y1="964" x2="737" y2="1416"/>
<line class="grid" x1="972" y1="964" x2="972" y2="1416"/>
<line class="grid" x1="1206" y1="964" x2="1206" y2="1416"/>
<line class="grid" x1="1441" y1="964" x2="1441" y2="1416"/>
<line class="grid" x1="1675" y1="964" x2="1675" y2="1416"/>
<line class="grid" x1="1910" y1="964" x2="1910" y2="1416"/>
<line class="grid" x1="265" y1="994" x2="2141" y2="994"/>
<line class="grid" x1="265" y1="1140" x2="2141" y2="1140"/>
<line class="grid" x1="265" y1="1285" x2="2141" y2="1285"/>
<g clip-path="url(#cb)" stroke-linejoin="round" stroke-linecap="round" shape-rendering="crispEdges">
<polyline fill="none" stroke="#ff0000" stroke-width="11.8" points="262,1133 990,1133 993.5,1132.6 1000,1076 1005.2,1037 1010,1068 1017,1110 1026.1,1150 1032.4,1181.8 1038.8,1213.6 1046.7,1234.2 1057.9,1248.5 1069,1258.1 1081.7,1267.6 1094.4,1278.7 1107.1,1289.8 1116.7,1297.8 1130,1310 1145,1319 1165,1322.5 1185,1320 1205,1314 1230,1311 1300,1311"/>
<polygon fill="#ff0000" points="1044,1221.3 1045.5,1224.9 1047,1228.1 1048.5,1229.7 1050,1231.6 1051.5,1233.6 1053,1235.5 1054.5,1237.6 1056,1239.6 1057.5,1241.6 1059,1243.3 1060.5,1244.7 1062,1246.2 1063.5,1247.1 1065,1248.1 1066.5,1249 1068,1250.3 1069.5,1251.5 1071,1252.6 1072.5,1254 1074,1255.3 1075.5,1256.6 1077,1256.8 1078.5,1256.3 1080,1256.9 1081.5,1258.8 1083,1261.8 1084.5,1264.3 1086,1265.8 1087.5,1267.2 1089,1268.7 1090.5,1269.8 1092,1270.9 1093.5,1271.9 1095,1273.1 1096.5,1274.3 1098,1275.5 1099.5,1277.1 1101,1278.8 1102.5,1280.5 1104,1281.3 1105.5,1280.7 1107,1279.5 1108.5,1281.1 1110,1284.7 1111.5,1287.8 1113,1289 1114.5,1290.3 1116,1291.5 1117.5,1292.9 1119,1294.4 1120.5,1295.9 1122,1296.7 1123.5,1297.4 1125,1298.1 1126.5,1299.7 1128,1301.2 1129.5,1302.7 1131,1303.7 1132.5,1304.5 1134,1305.3 1135.5,1306.4 1137,1307.4 1138.5,1308.5 1140,1309.8 1141.5,1311 1143,1312.3 1144.5,1313 1146,1313.3 1147.5,1313.3 1149,1313.5 1150.5,1313.6 1152,1313.8 1153.5,1314.3 1155,1314.8 1156.5,1315.3 1158,1315 1159.5,1314.7 1161,1314.4 1162.5,1315 1164,1315.7 1165.5,1316.2 1167,1316.1 1168.5,1316.1 1170,1316 1171.5,1315.4 1173,1314.7 1174.5,1314.1 1176,1314.4 1177.5,1314.6 1179,1314.9 1180.5,1314.2 1182,1313.4 1183.5,1312.7 1185,1312.8 1186.5,1312.7 1188,1312.6 1189.5,1312 1191,1311.5 1192.5,1311 1194,1310.7 1195.5,1310.4 1197,1310 1198.5,1309.5 1200,1308.9 1200,1320.8 1198.5,1321.2 1197,1321.7 1195.5,1322.4 1194,1323.2 1192.5,1323.9 1191,1324.4 1189.5,1324.8 1188,1325.2 1186.5,1325.7 1185,1326.2 1183.5,1326.4 1182,1326.3 1180.5,1327.5 1179,1328.7 1177.5,1328 1176,1327.3 1174.5,1327.8 1173,1327.9 1171.5,1328 1170,1328 1168.5,1328.2 1167,1328.3 1165.5,1328.5 1164,1328.4 1162.5,1328.1 1161,1327.9 1159.5,1328 1158,1328 1156.5,1328.1 1155,1327.7 1153.5,1327.2 1152,1326.8 1150.5,1326.1 1149,1325.5 1147.5,1324.8 1146,1324.5 1144.5,1324 1143,1323 1141.5,1322.4 1140,1321.7 1138.5,1321.1 1137,1320.6 1135.5,1320.1 1134,1319.6 1132.5,1318.3 1131,1317 1129.5,1315.6 1128,1314.3 1126.5,1312.9 1125,1311.6 1123.5,1310.2 1122,1308.8 1120.5,1307.3 1119,1306 1117.5,1304.7 1116,1303.4 1114.5,1302.5 1113,1301.5 1111.5,1300.6 1110,1299.4 1108.5,1298.2 1107,1297 1105.5,1295.2 1104,1293.4 1102.5,1291.6 1101,1292.2 1099.5,1293.4 1098,1292.5 1096.5,1288.8 1095,1285.8 1093.5,1284.2 1092,1282.7 1090.5,1281.1 1089,1279.6 1087.5,1278.7 1086,1277.7 1084.5,1276.8 1083,1275.4 1081.5,1274 1080,1272.8 1078.5,1271.8 1077,1270.8 1075.5,1269.8 1074,1268.6 1072.5,1267.5 1071,1266.4 1069.5,1265.3 1068,1264.2 1066.5,1263 1065,1261.7 1063.5,1260.4 1062,1259.2 1060.5,1257.4 1059,1255.6 1057.5,1253.6 1056,1252 1054.5,1250.5 1053,1249 1051.5,1246.7 1050,1244.4 1048.5,1242.1 1047,1240.6 1045.5,1237.5 1044,1234"/>
<polygon fill="#0000ff" points="262,1125.5 266,1125.5 270,1125.4 274,1125.4 278,1125.4 282,1125.4 286,1125.4 290,1125.5 294,1125.7 298,1125.8 302,1125.8 306,1125.9 310,1125.9 314,1125.8 318,1125.7 322,1125.6 326,1125.6 330,1125.7 334,1125.7 338,1125.6 342,1125.4 346,1125.3 350,1125.3 354,1125.3 358,1125.4 362,1125.4 366,1125.4 370,1125.4 374,1125.4 378,1125.5 382,1125.5 386,1125.4 390,1125.4 394,1125.4 398,1125.5 402,1125.7 406,1125.8 410,1125.7 414,1125.6 418,1125.6 422,1125.6 426,1125.7 430,1125.8 434,1125.6 438,1125.4 442,1125.1 446,1125.4 450,1125.6 454,1125.8 458,1125.6 462,1125.4 466,1125.2 470,1125.4 474,1125.5 478,1125.7 482,1125.6 486,1125.4 490,1125.2 494,1125.3 498,1125.4 502,1125.5 506,1125.5 510,1125.4 514,1125.4 518,1125.3 522,1125.1 526,1125 530,1125.2 534,1125.4 538,1125.7 542,1125.6 546,1125.6 550,1125.6 554,1125.4 558,1125.1 562,1124.9 566,1125 570,1125.1 574,1125.2 578,1125.3 582,1125.4 586,1125.5 590,1125.3 594,1125.1 598,1124.8 602,1124.9 606,1124.9 610,1124.9 614,1125.1 618,1125.4 622,1125.6 626,1125.5 630,1125.5 634,1125.4 638,1125.5 642,1125.6 646,1125.7 650,1125.6 654,1125.6 658,1125.5 662,1125.5 666,1125.4 670,1125.3 674,1125.5 678,1125.6 682,1125.7 686,1125.6 690,1125.5 694,1125.3 698,1125.5 702,1125.7 706,1125.9 710,1125.9 714,1125.8 718,1125.8 722,1125.7 726,1125.5 730,1125.3 734,1125.5 738,1125.6 742,1125.7 746,1125.7 750,1125.7 754,1125.7 758,1125.6 762,1125.6 766,1125.5 770,1125.5 774,1125.6 778,1125.6 782,1125.6 786,1125.6 790,1125.6 794,1125.7 798,1125.8 802,1125.9 806,1125.7 810,1125.5 814,1125.3 818,1125.3 822,1125.2 826,1125.1 830,1125.1 834,1125.1 838,1125.1 842,1125.2 846,1125.2 850,1125.3 854,1125.4 858,1125.5 862,1125.5 866,1125.5 870,1125.5 874,1125.5 878,1125.4 882,1125.3 886,1125.2 890,1125.2 894,1125.2 898,1125.2 902,1125.4 906,1125.5 910,1125.7 914,1125.6 918,1125.6 922,1125.6 926,1125.5 930,1125.5 934,1125.4 938,1125.4 942,1125.4 946,1125.3 950,1125.2 954,1125.1 958,1125.1 962,1125.1 966,1126.4 970,1127.6 970,1143.4 966,1142.4 962,1141.3 958,1141.5 954,1141.5 950,1141.5 946,1141.5 942,1141.4 938,1141.4 934,1141.3 930,1141.5 926,1141.6 922,1141.7 918,1141.5 914,1141.3 910,1141.2 906,1141.3 902,1141.5 898,1141.7 894,1141.5 890,1141.4 886,1141.2 882,1141.2 878,1141.2 874,1141.1 870,1141.3 866,1141.5 862,1141.7 858,1141.8 854,1141.8 850,1141.8 846,1141.6 842,1141.4 838,1141.3 834,1141.4 830,1141.5 826,1141.6 822,1141.6 818,1141.5 814,1141.5 810,1141.5 806,1141.5 802,1141.5 798,1141.5 794,1141.4 790,1141.3 786,1141.4 782,1141.6 778,1141.7 774,1141.7 770,1141.8 766,1141.9 762,1141.9 758,1141.8 754,1141.8 750,1141.7 746,1141.6 742,1141.5 738,1141.4 734,1141.3 730,1141.2 726,1141.3 722,1141.5 718,1141.6 714,1141.7 710,1141.8 706,1141.9 702,1141.9 698,1141.9 694,1141.9 690,1141.8 686,1141.7 682,1141.6 678,1141.4 674,1141.2 670,1141.1 666,1141 662,1141 658,1141 654,1141.1 650,1141.1 646,1141.2 642,1141.2 638,1141.2 634,1141.2 630,1141.3 626,1141.4 622,1141.5 618,1141.4 614,1141.2 610,1141.1 606,1141 602,1140.9 598,1140.8 594,1141.1 590,1141.3 586,1141.5 582,1141.5 578,1141.4 574,1141.4 570,1141.3 566,1141.1 562,1141 558,1141 554,1141.1 550,1141.1 546,1141.3 542,1141.5 538,1141.6 534,1141.4 530,1141.2 526,1141 522,1141.2 518,1141.5 514,1141.7 510,1141.6 506,1141.5 502,1141.3 498,1141.5 494,1141.6 490,1141.7 486,1141.6 482,1141.5 478,1141.4 474,1141.3 470,1141.3 466,1141.2 462,1141.2 458,1141.2 454,1141.2 450,1141.3 446,1141.4 442,1141.4 438,1141.3 434,1141.2 430,1141.1 426,1141.3 422,1141.5 418,1141.6 414,1141.5 410,1141.5 406,1141.4 402,1141.4 398,1141.4 394,1141.3 390,1141.3 386,1141.2 382,1141.1 378,1141.3 374,1141.5 370,1141.7 366,1141.5 362,1141.4 358,1141.3 354,1141.4 350,1141.5 346,1141.6 342,1141.4 338,1141.3 334,1141.2 330,1141.4 326,1141.6 322,1141.7 318,1141.6 314,1141.5 310,1141.4 306,1141.4 302,1141.4 298,1141.5 294,1141.4 290,1141.3 286,1141.3 282,1141.4 278,1141.4 274,1141.5 270,1141.5 266,1141.5 262,1141.5"/>
<polygon fill="#0000ff" points="966,1126.8 967.5,1127.2 969,1127.6 970.5,1127.9 972,1128.1 973.5,1128.4 975,1128.6 976.5,1129.3 978,1129.9 979.5,1130.6 981,1130.8 982.5,1130.9 984,1131.1 985.5,1131.2 987,1131.3 988.5,1131.3 990,1131.1 991.5,1131 993,1130.8 994.5,1130.3 996,1129.8 997.5,1129.3 999,1128.9 1000.5,1128.4 1002,1128 1003.5,1127.6 1005,1127.1 1006.5,1126.7 1008,1126.7 1009.5,1126.8 1011,1126.8 1012.5,1126.3 1014,1125.9 1015.5,1125.4 1017,1125.2 1018.5,1124.9 1020,1124.7 1021.5,1123.9 1023,1123.2 1024.5,1122.5 1026,1122.2 1027.5,1121.9 1029,1121.6 1030.5,1121.7 1032,1121.7 1033.5,1121.7 1035,1120.9 1036.5,1120 1038,1119.2 1039.5,1118.9 1041,1118.5 1042.5,1118.2 1044,1118.1 1045.5,1118 1047,1117.8 1048.5,1117.6 1050,1117.3 1051.5,1117 1053,1117 1054.5,1116.9 1056,1116.9 1057.5,1116.6 1059,1116.4 1060.5,1116.2 1062,1115.6 1063.5,1115.1 1065,1114.5 1066.5,1114.5 1068,1114.4 1069.5,1114.4 1071,1114 1072.5,1113.7 1074,1113.3 1075.5,1113 1077,1112.7 1078.5,1112.3 1080,1112.1 1081.5,1112 1083,1111.8 1084.5,1111.3 1086,1110.7 1087.5,1110.2 1089,1109.9 1090.5,1109.6 1092,1109.2 1093.5,1108.7 1095,1108.2 1096.5,1107.6 1098,1107.5 1099.5,1107.4 1101,1107.3 1102.5,1106.9 1104,1106.6 1105.5,1106.3 1107,1106.1 1108.5,1105.9 1110,1105.7 1111.5,1105.3 1113,1105 1114.5,1104.6 1116,1104.4 1117.5,1104.3 1119,1104.1 1120.5,1103.9 1122,1103.7 1123.5,1103.6 1125,1102.9 1126.5,1102.2 1128,1101.6 1129.5,1101.3 1131,1101 1132.5,1100.8 1134,1100.6 1135.5,1100.4 1137,1100.2 1138.5,1100 1140,1099.8 1141.5,1099.6 1143,1099.5 1144.5,1099.5 1146,1099.4 1147.5,1099.2 1149,1099 1150.5,1098.8 1152,1098.6 1153.5,1098.3 1155,1098.1 1156.5,1097.9 1158,1097.8 1159.5,1097.7 1161,1097.1 1162.5,1096.5 1164,1095.9 1165.5,1095.9 1167,1095.8 1168.5,1095.8 1170,1095.3 1171.5,1094.9 1173,1094.4 1174.5,1094.4 1176,1094.4 1177.5,1094.4 1179,1093.9 1180.5,1093.4 1182,1092.8 1183.5,1092.7 1185,1092.5 1186.5,1092.3 1188,1092.5 1189.5,1092.8 1191,1093 1192.5,1092.6 1194,1091.9 1195.5,1090.9 1197,1089.9 1198.5,1089.1 1200,1088.7 1201.5,1089.1 1203,1089.8 1204.5,1090.2 1206,1089.7 1207.5,1089.2 1209,1088.7 1210.5,1088.8 1212,1088.9 1213.5,1089 1215,1089 1216.5,1088.9 1218,1088.9 1219.5,1088.4 1221,1087.9 1222.5,1087.3 1224,1087 1225.5,1086.8 1227,1086.5 1228.5,1086.5 1230,1086.6 1231.5,1086.6 1233,1086.5 1234.5,1086.4 1236,1086.3 1237.5,1085.9 1239,1085.6 1240.5,1085.3 1242,1084.7 1243.5,1084.2 1245,1083.6 1246.5,1083.5 1248,1083.4 1249.5,1083.3 1251,1083.4 1252.5,1083.6 1254,1083.7 1255.5,1083.4 1257,1083.1 1258.5,1082.8 1260,1082.7 1261.5,1082.6 1263,1082.4 1264.5,1082.2 1266,1082 1267.5,1081.8 1269,1081.1 1270.5,1080.4 1272,1079.8 1273.5,1079.8 1275,1079.9 1276.5,1080 1278,1079.5 1279.5,1079 1281,1078.6 1282.5,1078.4 1284,1078.2 1285.5,1078 1287,1077.8 1288.5,1077.7 1290,1077.6 1291.5,1077 1293,1076.5 1294.5,1075.9 1296,1076 1297.5,1076 1299,1076.1 1300.5,1075.5 1302,1075 1303.5,1074.5 1305,1074.5 1306.5,1074.5 1308,1074.5 1309.5,1074.1 1311,1073.7 1312.5,1073.2 1314,1073.1 1315.5,1072.9 1317,1072.8 1318.5,1072.5 1320,1072.2 1321.5,1071.9 1323,1071.3 1324.5,1070.7 1326,1070.1 1327.5,1070 1329,1069.9 1330.5,1069.8 1332,1069.8 1333.5,1069.9 1335,1070 1336.5,1069.5 1338,1069 1339.5,1068.5 1341,1068.6 1342.5,1068.8 1344,1069 1345.5,1068.7 1347,1068.4 1348.5,1068.1 1350,1067.7 1351.5,1067.2 1353,1066.8 1354.5,1065.7 1356,1064 1357.5,1062.9 1359,1063 1360.5,1064.1 1362,1065.9 1363.5,1066.2 1365,1065.5 1366.5,1064.8 1368,1065.1 1369.5,1065.3 1371,1065.5 1372.5,1065.3 1374,1065.1 1375.5,1064.8 1377,1064.4 1378.5,1063.9 1380,1063.4 1381.5,1063.5 1383,1063.5 1384.5,1063.5 1386,1063.3 1387.5,1063.1 1389,1062.9 1390.5,1062.7 1392,1062.6 1393.5,1062.4 1395,1062.2 1396.5,1061.9 1398,1061.6 1399.5,1061.1 1401,1060.6 1402.5,1060.1 1404,1060 1405.5,1059.9 1407,1059.9 1408.5,1059.4 1410,1059 1411.5,1058.5 1413,1058.4 1414.5,1058.2 1416,1058.1 1417.5,1057.8 1419,1057.5 1420.5,1057.2 1422,1056.7 1423.5,1056.1 1425,1055.6 1426.5,1055.6 1428,1055.6 1429.5,1055.6 1431,1055.3 1432.5,1055 1434,1054.7 1435.5,1054.3 1437,1053.9 1438.5,1053.4 1440,1053.5 1441.5,1053.7 1443,1053.8 1444.5,1053.6 1446,1052.6 1447.5,1051 1449,1049.6 1450.5,1049 1452,1049.3 1453.5,1050.6 1455,1051.4 1456.5,1051.2 1458,1051.4 1459.5,1051.5 1461,1051.7 1462.5,1051.5 1464,1051.4 1465.5,1051.3 1467,1050.8 1468.5,1050.3 1470,1049.9 1471.5,1049.6 1473,1049.3 1474.5,1049.1 1476,1049.3 1477.5,1049.5 1479,1049.7 1480.5,1049.2 1482,1048.6 1483.5,1048 1485,1047.9 1486.5,1047.8 1488,1047.6 1489.5,1047.6 1491,1047.6 1492.5,1047.6 1494,1047.5 1495.5,1047.5 1497,1047.4 1498.5,1047.4 1500,1047.4 1501.5,1047.4 1503,1047.3 1504.5,1047.1 1506,1047 1507.5,1046.3 1509,1045.6 1510.5,1045 1512,1045.2 1513.5,1045.4 1515,1045.6 1516.5,1045.2 1518,1044.8 1519.5,1044.4 1521,1044.5 1522.5,1044.6 1524,1044.7 1525.5,1044.2 1527,1043.7 1528.5,1043.3 1530,1043.2 1531.5,1043.2 1533,1043.2 1534.5,1043.2 1536,1043.2 1537.5,1043.2 1539,1043.1 1540.5,1043 1542,1042.9 1543.5,1042.4 1545,1042 1546.5,1041.6 1548,1041.7 1549.5,1041.9 1551,1042.1 1552.5,1041.9 1554,1041.6 1555.5,1041.4 1557,1041.1 1558.5,1040.7 1560,1040.4 1561.5,1040 1563,1039.7 1564.5,1039.3 1566,1039.2 1567.5,1039.2 1569,1039.1 1570.5,1039.1 1572,1039.1 1573.5,1038.7 1575,1037.4 1576.5,1036.4 1578,1035.5 1579.5,1035.7 1581,1036.2 1582.5,1037 1584,1037.6 1585.5,1037.9 1587,1037.8 1588.5,1037.5 1590,1037.2 1591.5,1036.9 1593,1036.6 1594.5,1036.3 1596,1036 1597.5,1036 1599,1036.1 1600.5,1036.1 1602,1035.8 1603.5,1035.6 1605,1035.3 1606.5,1035 1608,1034.8 1609.5,1034.5 1611,1034.2 1612.5,1033.9 1614,1033.6 1615.5,1033.6 1617,1033.7 1618.5,1033.7 1620,1033.4 1621.5,1033.1 1623,1032.8 1624.5,1032.3 1626,1031.9 1627.5,1031.4 1629,1031.1 1630.5,1030.9 1632,1030.7 1633.5,1030.6 1635,1030.6 1636.5,1030.6 1638,1030.4 1639.5,1030.2 1641,1030 1642.5,1029.8 1644,1029.7 1645.5,1029.6 1647,1029.6 1648.5,1029.6 1650,1029.7 1651.5,1029.5 1653,1029.4 1654.5,1029.3 1656,1029.1 1657.5,1028.9 1659,1028.7 1660.5,1028.1 1662,1027.4 1663.5,1026.7 1665,1026.6 1666.5,1026.5 1668,1026.5 1669.5,1026.1 1671,1025.8 1672.5,1025.5 1674,1025.8 1675.5,1026.1 1677,1026.4 1678.5,1025.9 1680,1025.4 1681.5,1024.9 1683,1024.8 1684.5,1024.7 1686,1024.7 1687.5,1024.3 1689,1024 1690.5,1023.7 1692,1023.7 1693.5,1023.7 1695,1023.7 1696.5,1023.2 1698,1022.6 1699.5,1022.1 1701,1022.4 1702.5,1022.7 1704,1023 1705.5,1022.5 1707,1022.1 1708.5,1021.6 1710,1021.3 1711.5,1021 1713,1020.7 1714.5,1020.4 1716,1020.2 1717.5,1019.9 1719,1019.8 1720.5,1019.7 1722,1019.5 1723.5,1019.4 1725,1019.2 1726.5,1019 1728,1018.8 1729.5,1018.5 1731,1018.3 1732.5,1018 1734,1017.8 1735.5,1017.5 1737,1017.6 1738.5,1017.7 1740,1017.8 1741.5,1017.4 1743,1017.1 1744.5,1016.7 1746,1016.4 1747.5,1016.1 1749,1015.9 1750.5,1015.7 1752,1015.6 1753.5,1015.5 1755,1015.6 1756.5,1015.7 1758,1015.8 1759.5,1015.4 1761,1015.1 1762.5,1014.7 1764,1013.3 1765.5,1011.3 1767,1011.1 1768.5,1012.9 1770,1014.2 1771.5,1014.2 1773,1014 1774.5,1013.8 1776,1013.7 1777.5,1013.7 1779,1013.6 1780.5,1013.6 1782,1013.4 1783.5,1013.2 1785,1013 1786.5,1012.9 1788,1012.7 1789.5,1012.6 1791,1012.8 1792.5,1012.9 1794,1013.1 1795.5,1012.7 1797,1012.3 1798.5,1011.9 1800,1011.6 1801.5,1011.3 1803,1011 1804.5,1010.9 1806,1010.9 1807.5,1010.8 1809,1010.7 1810.5,1010.6 1812,1010.5 1813.5,1010.6 1815,1010.6 1816.5,1010.6 1818,1010.2 1819.5,1009.9 1821,1009.6 1822.5,1009.5 1824,1009.4 1825.5,1009.3 1827,1009.2 1828.5,1009.1 1830,1009.1 1831.5,1008.7 1833,1008.3 1834.5,1007.9 1836,1008.2 1837.5,1008.4 1839,1008.7 1840.5,1008.1 1842,1007.6 1843.5,1007.1 1845,1007.3 1846.5,1007.6 1848,1007.8 1849.5,1007.3 1851,1006.8 1852.5,1006.4 1854,1006.3 1855.5,1006.2 1857,1006.1 1858.5,1006.1 1860,1006 1861.5,1006 1863,1005.6 1864.5,1005.2 1866,1004.8 1867.5,1004.7 1869,1004.7 1870.5,1004.7 1872,1004.5 1873.5,1004.3 1875,1004.1 1876.5,1003.8 1878,1003.5 1879.5,1003.2 1881,1003.4 1882.5,1003.6 1884,1003.8 1885.5,1003.8 1887,1003.8 1888.5,1003.8 1890,1003.5 1891.5,1003.2 1893,1002.9 1894.5,1002.6 1896,1002.2 1897.5,1001.9 1899,1002 1900.5,1002.1 1902,1002.2 1903.5,1002.1 1905,1002 1906.5,1001.9 1908,1000.9 1909.5,999.6 1911,998.7 1912.5,998.7 1914,999.1 1915.5,999.9 1917,1000.3 1918.5,1000.3 1920,1000.3 1921.5,999.9 1923,999.6 1924.5,999.2 1926,999.4 1927.5,999.6 1929,999.8 1930.5,999.5 1932,999.2 1933.5,998.9 1935,999 1936.5,999.1 1938,999.3 1939.5,999 1941,998.8 1942.5,998.5 1944,998.2 1945.5,997.9 1947,997.6 1948.5,997.4 1950,997.2 1951.5,997 1953,996.9 1954.5,996.8 1956,996.7 1957.5,996.9 1959,997 1960.5,997.2 1962,996.9 1963.5,996.7 1965,996.5 1966.5,996.5 1968,996.5 1969.5,996.6 1971,996.5 1972.5,996.5 1974,996.5 1975.5,996.2 1977,995.9 1978.5,995.5 1980,995.2 1981.5,994.9 1983,994.6 1984.5,994.5 1986,994.4 1987.5,994.2 1989,994.2 1990.5,994.1 1992,994.1 1993.5,993.8 1995,993.6 1996.5,993.3 1998,993.5 1999.5,993.8 2001,994 2002.5,993.9 2004,993.8 2005.5,993.8 2007,993.5 2008.5,993.2 2010,992.9 2011.5,992.9 2013,992.9 2014.5,992.8 2016,992.7 2017.5,992.6 2019,992.5 2020.5,992.3 2022,992.1 2023.5,991.8 2025,991.6 2026.5,991.3 2028,991.1 2029.5,991.1 2031,991 2032.5,991 2034,991 2035.5,991 2037,991 2038.5,990.6 2040,990.3 2041.5,989.9 2043,989.7 2044.5,989.5 2046,989.4 2047.5,989.6 2049,989.8 2050.5,990 2052,990.1 2053.5,990.2 2055,990.3 2056.5,990.2 2058,990.2 2059.5,990.1 2061,989.6 2062.5,989 2064,988.5 2065.5,988.8 2067,989.2 2068.5,989.5 2070,989.1 2071.5,988.6 2073,988.2 2074.5,988.2 2076,988.2 2077.5,988.1 2079,988.2 2080.5,988.2 2082,988.3 2083.5,987.9 2085,987.6 2086.5,987.3 2088,987.6 2089.5,987.9 2091,988.2 2092.5,988.1 2094,987.9 2095.5,987.8 2097,987.5 2098.5,987.2 2100,987 2101.5,987.1 2103,987.3 2104.5,987.4 2106,986.9 2107.5,986.4 2109,985.9 2110.5,986.1 2112,986.4 2113.5,986.6 2115,986.6 2116.5,986.6 2118,986.5 2119.5,986.5 2121,986.5 2122.5,986.5 2124,986.1 2125.5,985.7 2127,985.3 2128.5,985.3 2130,985.4 2131.5,985.4 2133,985.2 2134.5,985 2136,984.9 2137.5,984.8 2139,984.7 2140.5,984.6 2140.5,1001.9 2139,1002 2137.5,1002 2136,1002.1 2134.5,1002.4 2133,1002.7 2131.5,1002.9 2130,1003.9 2128.5,1005.5 2127,1005.2 2125.5,1003.4 2124,1002.1 2122.5,1002.1 2121,1002.3 2119.5,1002.5 2118,1002.8 2116.5,1002.7 2115,1002.7 2113.5,1002.7 2112,1002.7 2110.5,1002.7 2109,1002.7 2107.5,1002.9 2106,1003.2 2104.5,1003.5 2103,1003.5 2101.5,1003.5 2100,1003.5 2098.5,1003.9 2097,1004.2 2095.5,1004.6 2094,1004.6 2092.5,1004.6 2091,1004.6 2089.5,1004.4 2088,1004.2 2086.5,1004 2085,1004.6 2083.5,1005.2 2082,1005.8 2080.5,1005.7 2079,1005.7 2077.5,1005.7 2076,1005.7 2074.5,1005.8 2073,1005.9 2071.5,1005.9 2070,1006 2068.5,1006 2067,1006.3 2065.5,1006.6 2064,1006.9 2062.5,1006.6 2061,1006.4 2059.5,1006.2 2058,1007 2056.5,1008.4 2055,1009.5 2053.5,1010.1 2052,1010.2 2050.5,1009.8 2049,1009 2047.5,1007.9 2046,1007.4 2044.5,1007.3 2043,1007.3 2041.5,1007.2 2040,1007.4 2038.5,1007.7 2037,1008 2035.5,1008.2 2034,1008.5 2032.5,1008.7 2031,1008.4 2029.5,1008.1 2028,1007.9 2026.5,1008.2 2025,1008.5 2023.5,1008.9 2022,1009 2020.5,1009.2 2019,1009.3 2017.5,1009.3 2016,1009.2 2014.5,1009.2 2013,1009.2 2011.5,1009.1 2010,1009.1 2008.5,1009.4 2007,1009.8 2005.5,1010.2 2004,1010.3 2002.5,1010.3 2001,1010.4 1999.5,1010.4 1998,1010.4 1996.5,1010.3 1995,1010.8 1993.5,1011.3 1992,1011.8 1990.5,1011.7 1989,1011.7 1987.5,1011.7 1986,1013.9 1984.5,1016.1 1983,1014.5 1981.5,1012.7 1980,1012.8 1978.5,1013 1977,1014 1975.5,1015.6 1974,1016.6 1972.5,1016.8 1971,1016.1 1969.5,1014.8 1968,1014 1966.5,1014.1 1965,1014.3 1963.5,1014.1 1962,1014 1960.5,1013.8 1959,1014.2 1957.5,1014.5 1956,1014.8 1954.5,1014.9 1953,1015 1951.5,1015.1 1950,1015.2 1948.5,1015.3 1947,1015.4 1945.5,1015.7 1944,1015.9 1942.5,1016.1 1941,1015.8 1939.5,1015.6 1938,1015.4 1936.5,1015.8 1935,1016.2 1933.5,1016.6 1932,1016.8 1930.5,1017.9 1929,1019.5 1927.5,1019.9 1926,1019.2 1924.5,1017.7 1923,1017 1921.5,1017.2 1920,1017.4 1918.5,1017.4 1917,1017.4 1915.5,1017.4 1914,1017.6 1912.5,1017.9 1911,1018.1 1909.5,1018.4 1908,1018.6 1906.5,1018.9 1905,1019.9 1903.5,1021.7 1902,1022.7 1900.5,1022.9 1899,1022.1 1897.5,1020.6 1896,1019.8 1894.5,1020 1893,1020.2 1891.5,1019.9 1890,1019.5 1888.5,1019.2 1887,1019.6 1885.5,1020 1884,1020.4 1882.5,1020.4 1881,1020.3 1879.5,1020.3 1878,1020.5 1876.5,1020.6 1875,1020.8 1873.5,1021 1872,1021.3 1870.5,1021.5 1869,1021.8 1867.5,1022.2 1866,1022.5 1864.5,1022.5 1863,1022.5 1861.5,1022.5 1860,1022.5 1858.5,1022.5 1857,1022.5 1855.5,1023.1 1854,1023.6 1852.5,1024.1 1851,1024.2 1849.5,1024.3 1848,1024.3 1846.5,1024.1 1845,1023.9 1843.5,1023.7 1842,1024.2 1840.5,1024.7 1839,1025.2 1837.5,1025.2 1836,1025.3 1834.5,1025.4 1833,1025.6 1831.5,1025.8 1830,1026 1828.5,1026.1 1827,1026.3 1825.5,1026.4 1824,1026.5 1822.5,1026.6 1821,1026.7 1819.5,1027 1818,1027.4 1816.5,1027.8 1815,1028.6 1813.5,1029.9 1812,1030.9 1810.5,1031.9 1809,1032.3 1807.5,1032.2 1806,1030.8 1804.5,1029.2 1803,1028.1 1801.5,1028.2 1800,1028.3 1798.5,1028.5 1797,1029 1795.5,1029.6 1794,1030.1 1792.5,1030.3 1791,1030.4 1789.5,1030.6 1788,1030.6 1786.5,1030.6 1785,1030.7 1783.5,1030.4 1782,1030.2 1780.5,1030 1779,1030.1 1777.5,1030.2 1776,1030.4 1774.5,1030.5 1773,1030.6 1771.5,1030.7 1770,1031.1 1768.5,1031.5 1767,1031.9 1765.5,1032 1764,1032.1 1762.5,1032.2 1761,1032.4 1759.5,1032.5 1758,1032.7 1756.5,1032.6 1755,1032.4 1753.5,1032.3 1752,1032.5 1750.5,1032.7 1749,1032.9 1747.5,1033 1746,1033.1 1744.5,1033.3 1743,1033.6 1741.5,1033.8 1740,1034.1 1738.5,1034.5 1737,1035 1735.5,1035.5 1734,1035.6 1732.5,1035.7 1731,1035.8 1729.5,1036.1 1728,1036.4 1726.5,1036.7 1725,1036.8 1723.5,1036.9 1722,1036.9 1720.5,1036.9 1719,1036.9 1717.5,1036.9 1716,1037.5 1714.5,1038.2 1713,1038.8 1711.5,1039 1710,1039.2 1708.5,1039.3 1707,1039.4 1705.5,1039.5 1704,1039.6 1702.5,1039.5 1701,1039.4 1699.5,1039.4 1698,1039.5 1696.5,1039.6 1695,1039.7 1693.5,1040.2 1692,1040.8 1690.5,1041.3 1689,1041.4 1687.5,1041.4 1686,1041.5 1684.5,1041.5 1683,1041.5 1681.5,1041.5 1680,1042.1 1678.5,1042.6 1677,1043.1 1675.5,1043.1 1674,1043.1 1672.5,1043.1 1671,1043.5 1669.5,1043.9 1668,1044.3 1666.5,1044.1 1665,1043.9 1663.5,1043.7 1662,1044.6 1660.5,1045.8 1659,1046.8 1657.5,1047.5 1656,1047.7 1654.5,1047.4 1653,1046.4 1651.5,1045.8 1650,1045.7 1648.5,1045.8 1647,1046 1645.5,1046.1 1644,1046.7 1642.5,1047.3 1641,1047.9 1639.5,1048.1 1638,1048.4 1636.5,1048.6 1635,1049.7 1633.5,1051.4 1632,1051.2 1630.5,1049.9 1629,1049.1 1627.5,1049.7 1626,1049.6 1624.5,1049.4 1623,1049.3 1621.5,1049.5 1620,1049.7 1618.5,1049.8 1617,1050.3 1615.5,1050.8 1614,1051.3 1612.5,1051.5 1611,1051.6 1609.5,1051.7 1608,1051.9 1606.5,1052 1605,1052.2 1603.5,1052.1 1602,1052 1600.5,1051.9 1599,1052.5 1597.5,1053 1596,1053.5 1594.5,1053.6 1593,1053.6 1591.5,1053.7 1590,1054 1588.5,1054.3 1587,1054.6 1585.5,1054.6 1584,1054.6 1582.5,1054.6 1581,1054.9 1579.5,1055.1 1578,1055.4 1576.5,1055.6 1575,1055.7 1573.5,1055.9 1572,1055.9 1570.5,1055.8 1569,1055.8 1567.5,1056 1566,1056.1 1564.5,1056.3 1563,1056.7 1561.5,1057.1 1560,1057.5 1558.5,1057.6 1557,1057.7 1555.5,1057.8 1554,1058 1552.5,1058.1 1551,1058.2 1549.5,1058.4 1548,1058.6 1546.5,1058.8 1545,1059 1543.5,1059.2 1542,1059.4 1540.5,1059.4 1539,1059.4 1537.5,1059.4 1536,1059.6 1534.5,1059.7 1533,1059.9 1531.5,1060.2 1530,1060.5 1528.5,1060.8 1527,1060.8 1525.5,1060.7 1524,1060.7 1522.5,1061.2 1521,1061.6 1519.5,1062.1 1518,1061.9 1516.5,1061.8 1515,1061.6 1513.5,1062 1512,1062.5 1510.5,1064.2 1509,1065.5 1507.5,1064.3 1506,1063 1504.5,1063.2 1503,1063.3 1501.5,1063.5 1500,1063.8 1498.5,1064.2 1497,1064.6 1495.5,1064.5 1494,1064.4 1492.5,1064.3 1491,1064.5 1489.5,1064.6 1488,1064.8 1486.5,1064.8 1485,1064.9 1483.5,1065 1482,1065.6 1480.5,1066.1 1479,1066.7 1477.5,1066.5 1476,1066.3 1474.5,1066.2 1473,1066.8 1471.5,1067.3 1470,1067.9 1468.5,1067.9 1467,1067.9 1465.5,1067.9 1464,1067.9 1462.5,1067.8 1461,1067.8 1459.5,1068 1458,1068.2 1456.5,1068.5 1455,1068.7 1453.5,1069 1452,1069.2 1450.5,1069.6 1449,1070 1447.5,1070.4 1446,1070.5 1444.5,1070.7 1443,1070.8 1441.5,1070.8 1440,1070.9 1438.5,1070.9 1437,1071 1435.5,1071.1 1434,1071.2 1432.5,1071.6 1431,1072.1 1429.5,1072.5 1428,1072.7 1426.5,1072.8 1425,1073 1423.5,1073.6 1422,1074.2 1420.5,1074.8 1419,1075.1 1417.5,1075.4 1416,1075.6 1414.5,1075.6 1413,1075.6 1411.5,1076.5 1410,1078.2 1408.5,1078.5 1407,1077.5 1405.5,1076.5 1404,1076.5 1402.5,1076.5 1401,1077.1 1399.5,1077.7 1398,1078.3 1396.5,1078.4 1395,1078.6 1393.5,1078.8 1392,1079 1390.5,1079.3 1389,1079.6 1387.5,1080 1386,1080.4 1384.5,1080.7 1383,1080.7 1381.5,1080.7 1380,1080.7 1378.5,1081 1377,1081.2 1375.5,1081.5 1374,1081.9 1372.5,1082.4 1371,1082.8 1369.5,1082.5 1368,1082.2 1366.5,1081.9 1365,1082.4 1363.5,1082.9 1362,1083.4 1360.5,1083.5 1359,1083.6 1357.5,1083.8 1356,1084 1354.5,1084.2 1353,1084.4 1351.5,1084.4 1350,1084.4 1348.5,1084.5 1347,1084.8 1345.5,1085.2 1344,1085.6 1342.5,1085.8 1341,1086 1339.5,1086.1 1338,1086.6 1336.5,1087 1335,1087.4 1333.5,1087.5 1332,1087.7 1330.5,1087.8 1329,1087.6 1327.5,1087.5 1326,1087.3 1324.5,1088 1323,1088.6 1321.5,1089.2 1320,1089.4 1318.5,1089.6 1317,1089.9 1315.5,1089.9 1314,1089.9 1312.5,1089.9 1311,1090.1 1309.5,1090.4 1308,1090.6 1306.5,1091 1305,1091.4 1303.5,1091.8 1302,1092.2 1300.5,1092.6 1299,1093 1297.5,1093.1 1296,1093.2 1294.5,1093.3 1293,1093.6 1291.5,1094 1290,1094.3 1288.5,1094.6 1287,1094.9 1285.5,1095.2 1284,1095.3 1282.5,1095.3 1281,1095.3 1279.5,1095.7 1278,1096.1 1276.5,1096.5 1275,1096.6 1273.5,1096.7 1272,1096.8 1270.5,1097 1269,1097.2 1267.5,1097.4 1266,1098.1 1264.5,1098.8 1263,1099.5 1261.5,1099.5 1260,1099.5 1258.5,1099.4 1257,1099.9 1255.5,1100.3 1254,1100.8 1252.5,1100.9 1251,1100.9 1249.5,1101 1248,1101.3 1246.5,1101.6 1245,1101.9 1243.5,1102 1242,1102.2 1240.5,1102.3 1239,1102.5 1237.5,1102.6 1236,1102.7 1234.5,1102.7 1233,1102.7 1231.5,1102.7 1230,1102.9 1228.5,1103.1 1227,1103.3 1225.5,1103.9 1224,1104.5 1222.5,1105 1221,1105 1219.5,1105 1218,1104.9 1216.5,1105.1 1215,1105.6 1213.5,1106.5 1212,1107.5 1210.5,1108 1209,1108.1 1207.5,1107.2 1206,1106.6 1204.5,1106.4 1203,1107 1201.5,1107.7 1200,1108.3 1198.5,1108.1 1197,1107.9 1195.5,1107.7 1194,1108.2 1192.5,1108.7 1191,1109.2 1189.5,1109.6 1188,1109.9 1186.5,1110.3 1185,1110.4 1183.5,1110.5 1182,1110.7 1180.5,1110.8 1179,1111 1177.5,1111.2 1176,1111.2 1174.5,1111.2 1173,1111.3 1171.5,1111.7 1170,1112 1168.5,1112.4 1167,1112.9 1165.5,1113.4 1164,1113.9 1162.5,1114.2 1161,1114.4 1159.5,1114.7 1158,1114.6 1156.5,1114.5 1155,1114.4 1153.5,1114.9 1152,1115.4 1150.5,1115.9 1149,1116 1147.5,1116.1 1146,1116.2 1144.5,1116.7 1143,1117.2 1141.5,1117.7 1140,1118 1138.5,1118.2 1137,1118.5 1135.5,1118.7 1134,1119 1132.5,1119.2 1131,1119.1 1129.5,1119 1128,1118.9 1126.5,1119.5 1125,1120 1123.5,1120.6 1122,1120.8 1120.5,1121 1119,1121.3 1117.5,1121.6 1116,1122 1114.5,1122.4 1113,1122.6 1111.5,1122.8 1110,1123 1108.5,1123 1107,1123 1105.5,1123 1104,1123.5 1102.5,1124 1101,1124.6 1099.5,1124.7 1098,1124.9 1096.5,1125.1 1095,1125.7 1093.5,1126.3 1092,1126.9 1090.5,1127.1 1089,1127.4 1087.5,1127.6 1086,1128 1084.5,1128.3 1083,1128.6 1081.5,1128.8 1080,1128.9 1078.5,1129 1077,1129.2 1075.5,1129.4 1074,1129.6 1072.5,1130.2 1071,1130.8 1069.5,1132.1 1068,1133.5 1066.5,1134.2 1065,1133.8 1063.5,1132.8 1062,1132.2 1060.5,1132.4 1059,1132.5 1057.5,1132.6 1056,1132.7 1054.5,1133.3 1053,1133.9 1051.5,1134.6 1050,1135 1048.5,1135.4 1047,1135.8 1045.5,1135.6 1044,1135.5 1042.5,1135.3 1041,1136.1 1039.5,1136.8 1038,1137.6 1036.5,1137.9 1035,1138.1 1033.5,1138.4 1032,1138.5 1030.5,1138.7 1029,1138.8 1027.5,1139.3 1026,1139.8 1024.5,1140.4 1023,1140.7 1021.5,1140.9 1020,1141.2 1018.5,1141.5 1017,1141.8 1015.5,1142.1 1014,1142.6 1012.5,1143 1011,1143.4 1009.5,1143.6 1008,1143.8 1006.5,1143.9 1005,1144.2 1003.5,1144.6 1002,1144.9 1000.5,1145.2 999,1145.5 997.5,1145.8 996,1146.4 994.5,1147 993,1147.7 991.5,1147.9 990,1148.1 988.5,1148.3 987,1148.1 985.5,1147.7 984,1147.3 982.5,1147.2 981,1147.2 979.5,1147 978,1146.8 976.5,1146.5 975,1147.4 973.5,1148.4 972,1147.8 970.5,1145.7 969,1144.4 967.5,1144.2 966,1144"/>
<circle fill="#0000ff" cx="2138.3" cy="993.6" r="8.7"/>
<polyline fill="none" stroke="#1e8cff" stroke-width="10.2" points="262,1133 988,1133 990,1132.6 993,1123 996.5,1111.5 1000,1104 1003,1100.3 1008.8,1098.5 1012.5,1100.2 1016.5,1103.8 1024.1,1112 1034.7,1125.6 1045.3,1136.8 1054.7,1145 1062.6,1150.5 1076.5,1156.2 1091.2,1163 1105,1172.3 1120.6,1184.1 1141.2,1204.7 1164.7,1231.2 1188.2,1257.6 1211.8,1281.2 1232.4,1297.4 1252.9,1309.5 1275,1319 1300,1324.5 1330,1326.3 1360,1324.5 1390,1319 1420,1313 1460,1311 1500,1311"/>
<polygon fill="#00a800" points="262,1120.5 263.5,1120.4 265,1120.3 266.5,1120.2 268,1120.2 269.5,1120.1 271,1120 272.5,1119.9 274,1119.8 275.5,1119.7 277,1119.8 278.5,1119.8 280,1119.9 281.5,1119.7 283,1119.6 284.5,1119.4 286,1119.8 287.5,1120.1 289,1120.5 290.5,1120.2 292,1119.9 293.5,1119.6 295,1119.2 296.5,1118.9 298,1118.5 299.5,1118.5 301,1118.5 302.5,1118.4 304,1118.1 305.5,1117.8 307,1117.5 308.5,1117.7 310,1117.8 311.5,1117.9 313,1117.5 314.5,1117.1 316,1116.6 317.5,1116.5 319,1116.3 320.5,1116.1 322,1115.7 323.5,1115.4 325,1115 326.5,1114.8 328,1114.6 329.5,1114.4 331,1114.5 332.5,1114.7 334,1114.8 335.5,1114.7 337,1114.5 338.5,1114.4 340,1114.4 341.5,1114.4 343,1114.4 344.5,1114.2 346,1114 347.5,1113.8 349,1114 350.5,1114.3 352,1114.6 353.5,1115 355,1115.6 356.5,1116.1 358,1116 359.5,1116 361,1115.9 362.5,1116.5 364,1117 365.5,1117.6 367,1117.6 368.5,1117.6 370,1117.6 371.5,1118.1 373,1118.5 374.5,1118.9 376,1119.2 377.5,1119.4 379,1119.6 380.5,1119.3 382,1119.1 383.5,1118.8 385,1119.2 386.5,1119.6 388,1120 389.5,1120 391,1120.1 392.5,1120.1 394,1119.8 395.5,1119.5 397,1119.2 398.5,1119.2 400,1119.3 401.5,1119.4 403,1119.7 404.5,1120 406,1120.3 407.5,1120 409,1119.7 410.5,1119.4 412,1119.6 413.5,1119.8 415,1120 416.5,1119.9 418,1119.8 419.5,1119.8 421,1120 422.5,1120.2 424,1120.5 425.5,1120.1 427,1119.8 428.5,1119.4 430,1119.6 431.5,1119.7 433,1119.8 434.5,1119.7 436,1119.5 437.5,1119.4 439,1119.4 440.5,1119.5 442,1119.5 443.5,1119.8 445,1120.1 446.5,1120.3 448,1120.3 449.5,1120.2 451,1120.2 452.5,1120.3 454,1120.3 455.5,1120.4 457,1120.4 458.5,1120.4 460,1120.3 461.5,1120.3 463,1120.3 464.5,1120.3 466,1120.1 467.5,1119.9 469,1119.7 470.5,1119.5 472,1119.2 473.5,1119 475,1119.1 476.5,1119.3 478,1119.4 479.5,1118.9 481,1118.4 482.5,1117.9 484,1117.9 485.5,1117.8 487,1117.8 488.5,1117.5 490,1117.3 491.5,1117.1 493,1116.6 494.5,1116.1 496,1115.7 497.5,1115.6 499,1115.5 500.5,1115.5 502,1115.3 503.5,1115.2 505,1115.1 506.5,1114.9 508,1114.7 509.5,1114.5 511,1114.3 512.5,1114.2 514,1114.1 515.5,1114.4 517,1114.7 518.5,1115.1 520,1114.7 521.5,1114.4 523,1114.1 524.5,1114.7 526,1115.3 527.5,1116 529,1115.8 530.5,1115.7 532,1115.6 533.5,1115.8 535,1116 536.5,1116.2 538,1116.8 539.5,1117.4 541,1118 542.5,1117.9 544,1117.7 545.5,1117.5 547,1117.9 548.5,1118.3 550,1118.6 551.5,1118.7 553,1118.7 554.5,1118.7 556,1119.1 557.5,1119.5 559,1119.8 560.5,1119.9 562,1119.9 563.5,1119.3 565,1117.3 566.5,1117 568,1116.9 569.5,1116.6 571,1116.6 572.5,1118.3 574,1119.3 575.5,1119.7 577,1120 578.5,1119.8 580,1119.5 581.5,1119.2 583,1119.2 584.5,1119.1 586,1119 587.5,1119 589,1119 590.5,1119 592,1117.4 593.5,1117 595,1117.3 596.5,1117.3 598,1117.9 599.5,1119.7 601,1119.7 602.5,1119.6 604,1119.5 605.5,1119.4 607,1119.2 608.5,1119.1 610,1119.4 611.5,1119.7 613,1120 614.5,1119.7 616,1119.3 617.5,1119 619,1119 620.5,1118.9 622,1118.9 623.5,1118.8 625,1118.8 626.5,1118.7 628,1119 629.5,1119.4 631,1119.7 632.5,1119.2 634,1118.7 635.5,1118.2 637,1118.5 638.5,1118.8 640,1119.1 641.5,1118.9 643,1118.6 644.5,1118.3 646,1118 647.5,1117.7 649,1117.4 650.5,1117.1 652,1116.7 653.5,1116.3 655,1116.4 656.5,1116.4 658,1116.5 659.5,1116 661,1115.5 662.5,1115 664,1115 665.5,1115 667,1115 668.5,1115 670,1114.9 671.5,1114.9 673,1114.8 674.5,1114.8 676,1114.7 677.5,1114.8 679,1114.9 680.5,1115 682,1115.1 683.5,1115.3 685,1115.4 686.5,1115.6 688,1115.7 689.5,1115.8 691,1115.8 692.5,1115.8 694,1115.7 695.5,1115.8 697,1115.9 698.5,1116 700,1116.7 701.5,1117.3 703,1117.9 704.5,1118.2 706,1118.5 707.5,1118.8 709,1118.6 710.5,1118.3 712,1118.1 713.5,1118.5 715,1118.9 716.5,1119.2 718,1119.4 719.5,1119.6 721,1119.8 722.5,1120 724,1120.1 725.5,1120.3 727,1120.2 728.5,1120.1 730,1120 731.5,1120 733,1119.9 734.5,1119.8 736,1120 737.5,1120.3 739,1120.5 740.5,1120.5 742,1120.5 743.5,1120.5 745,1120.7 746.5,1120.8 748,1121 749.5,1120.6 751,1120.1 752.5,1119.7 754,1120.1 755.5,1120.5 757,1120.8 758.5,1120.6 760,1120.4 761.5,1120.1 763,1119.9 764.5,1119.7 766,1119.5 767.5,1119.8 769,1120.1 770.5,1120.4 772,1120.1 773.5,1119.8 775,1119.5 776.5,1119.4 778,1119.2 779.5,1119.1 781,1119.2 782.5,1119.3 784,1119.4 785.5,1119.3 787,1119.2 788.5,1119.1 790,1119.3 791.5,1119.6 793,1119.9 794.5,1119.6 796,1119.4 797.5,1119.2 799,1119.2 800.5,1119.3 802,1119.3 803.5,1118.9 805,1118.5 806.5,1118.1 808,1118.2 809.5,1118.4 811,1118.5 812.5,1118.3 814,1118.1 815.5,1117.8 817,1117.4 818.5,1116.9 820,1116.5 821.5,1116.3 823,1116.2 824.5,1116 826,1115.8 827.5,1115.5 829,1115.2 830.5,1115.2 832,1115.2 833.5,1115.2 835,1115 836.5,1114.8 838,1114.6 839.5,1114.3 841,1114.1 842.5,1113.8 844,1113.8 845.5,1113.9 847,1114 848.5,1114 850,1114.1 851.5,1114.3 853,1114.3 854.5,1114.3 856,1114.4 857.5,1114.6 859,1114.9 860.5,1115.2 862,1115.3 863.5,1115.4 865,1115.6 866.5,1115.5 868,1115.5 869.5,1115.5 871,1115.8 872.5,1116 874,1116.3 875.5,1116.7 877,1117.1 878.5,1117.5 880,1117.8 881.5,1118.1 883,1117.2 884.5,1116.6 886,1116.9 887.5,1117.1 889,1118.3 890.5,1119.6 892,1119.9 893.5,1119.9 895,1120 896.5,1120 898,1119.8 899.5,1119.7 901,1119.5 902.5,1119.5 904,1119.6 905.5,1119.6 907,1119.9 908.5,1120.1 910,1120.4 911.5,1120.3 913,1120.1 914.5,1119.9 916,1120 917.5,1120 919,1120.1 920.5,1120.1 922,1119.8 923.5,1119.2 925,1118.7 926.5,1118.4 928,1118.4 929.5,1118.7 931,1118 932.5,1117.3 934,1117.8 935.5,1118 937,1118.2 938.5,1118.9 940,1120.4 941.5,1120.2 943,1120.4 944.5,1120.6 946,1120.8 947.5,1120.7 949,1120.6 950.5,1120.5 952,1120.4 953.5,1120.2 955,1120.1 956.5,1120.1 958,1120.2 959.5,1120.2 961,1120.4 962.5,1120.6 964,1120.8 965.5,1120.5 967,1120.2 968.5,1119.9 970,1120 971.5,1120.1 973,1120.3 974.5,1120.3 976,1120.3 977.5,1120.4 979,1120.6 980.5,1120.9 982,1121.2 983.5,1120.9 985,1120.6 985,1146.3 983.5,1146.4 982,1146.5 980.5,1146.6 979,1146.7 977.5,1146.7 976,1146.4 974.5,1146 973,1145.7 971.5,1146 970,1146.4 968.5,1146.7 967,1146.5 965.5,1148.6 964,1149.5 962.5,1149.4 961,1149.4 959.5,1149.4 958,1147.7 956.5,1146.5 955,1146.8 953.5,1146.6 952,1146.4 950.5,1146.1 949,1146.1 947.5,1146.1 946,1146.1 944.5,1146.4 943,1146.6 941.5,1146.9 940,1146.7 938.5,1146.5 937,1146.3 935.5,1146.3 934,1146.4 932.5,1146.5 931,1146.5 929.5,1148.6 928,1150.7 926.5,1151.5 925,1151.5 923.5,1151.4 922,1151.3 920.5,1151.2 919,1151.1 917.5,1149.7 916,1147.8 914.5,1146.5 913,1146.1 911.5,1145.8 910,1145.4 908.5,1145.6 907,1145.8 905.5,1146 904,1146.1 902.5,1146.2 901,1146.2 899.5,1146.2 898,1146.1 896.5,1146 895,1145.7 893.5,1145.4 892,1145.1 890.5,1144.8 889,1144.6 887.5,1144.3 886,1144.1 884.5,1143.8 883,1143.5 881.5,1143.6 880,1143.6 878.5,1143.6 877,1143.5 875.5,1143.3 874,1143.1 872.5,1142.7 871,1142.2 869.5,1141.8 868,1141.6 866.5,1141.4 865,1141.2 863.5,1140.9 862,1140.7 860.5,1140.6 859,1140.3 857.5,1140 856,1139.8 854.5,1139.7 853,1139.6 851.5,1139.5 850,1139.6 848.5,1139.7 847,1139.8 845.5,1139.7 844,1139.7 842.5,1139.7 841,1140 839.5,1140.4 838,1140.7 836.5,1140.6 835,1140.5 833.5,1140.4 832,1140.9 830.5,1141.5 829,1142 827.5,1142.1 826,1142.3 824.5,1142.5 823,1142.7 821.5,1143 820,1143.2 818.5,1143.3 817,1143.4 815.5,1143.5 814,1143.8 812.5,1144 811,1144.2 809.5,1144.8 808,1146.6 806.5,1148.4 805,1149 803.5,1149.4 802,1149.8 800.5,1149.5 799,1149.2 797.5,1148.8 796,1147 794.5,1145.3 793,1144.8 791.5,1144.8 790,1144.9 788.5,1144.9 787,1145.2 785.5,1145.5 784,1145.8 782.5,1145.9 781,1146 779.5,1146.1 778,1145.9 776.5,1145.6 775,1145.3 773.5,1145.5 772,1145.6 770.5,1145.8 769,1145.6 767.5,1145.4 766,1145.1 764.5,1145.5 763,1146 761.5,1146.4 760,1147 758.5,1148.3 757,1149.1 755.5,1149.2 754,1148.7 752.5,1147.7 751,1146.6 749.5,1146 748,1146.1 746.5,1146.2 745,1146.3 743.5,1146.4 742,1146.2 740.5,1145.9 739,1145.7 737.5,1145.8 736,1145.9 734.5,1146.1 733,1145.9 731.5,1145.8 730,1145.6 728.5,1145.7 727,1145.7 725.5,1145.7 724,1145.9 722.5,1146 721,1146.1 719.5,1145.7 718,1145.3 716.5,1144.8 715,1144.7 713.5,1144.6 712,1144.4 710.5,1144.3 709,1144.1 707.5,1144 706,1144 704.5,1144 703,1143.9 701.5,1143.4 700,1142.8 698.5,1142.2 697,1142.1 695.5,1142 694,1141.9 692.5,1141.8 691,1141.8 689.5,1141.7 688,1141.6 686.5,1141.4 685,1141.3 683.5,1140.9 682,1140.5 680.5,1140.2 679,1140.4 677.5,1140.7 676,1141 674.5,1140.7 673,1140.4 671.5,1140.2 670,1140.3 668.5,1140.4 667,1140.5 665.5,1140.8 664,1141 662.5,1141.3 661,1141.5 659.5,1141.7 658,1141.9 656.5,1142.4 655,1142.8 653.5,1143.3 652,1143.4 650.5,1143.5 649,1143.5 647.5,1143.5 646,1143.5 644.5,1143.4 643,1143.8 641.5,1144.1 640,1144.5 638.5,1144.6 637,1144.7 635.5,1144.7 634,1144.6 632.5,1144.5 631,1144.3 629.5,1144.3 628,1144.3 626.5,1144.3 625,1144.8 623.5,1145.2 622,1145.6 620.5,1145.4 619,1145.2 617.5,1145 616,1145.1 614.5,1145.2 613,1145.4 611.5,1145.6 610,1146.7 608.5,1151.8 607,1155.1 605.5,1154.5 604,1152.9 602.5,1151.8 601,1151.6 599.5,1148.7 598,1145.5 596.5,1145.5 595,1145.5 593.5,1145.3 592,1145.1 590.5,1144.9 589,1145 587.5,1148.1 586,1150.7 584.5,1150.8 583,1151 581.5,1151.1 580,1151.2 578.5,1148.8 577,1145.8 575.5,1145.6 574,1145.4 572.5,1145.2 571,1145.4 569.5,1145.6 568,1145.7 566.5,1145.8 565,1145.8 563.5,1148.1 562,1149.1 560.5,1148.8 559,1148.6 557.5,1148.4 556,1146.2 554.5,1144.4 553,1144.4 551.5,1144.4 550,1144.3 548.5,1144 547,1143.6 545.5,1143.2 544,1143.2 542.5,1143.3 541,1143.3 539.5,1142.8 538,1142.3 536.5,1142.5 535,1144.7 533.5,1145.7 532,1145.6 530.5,1145.6 529,1145.6 527.5,1145.2 526,1142.5 524.5,1140.5 523,1140 521.5,1140 520,1140.1 518.5,1140.1 517,1140 515.5,1139.9 514,1139.8 512.5,1139.9 511,1140 509.5,1140.2 508,1140.1 506.5,1140 505,1140 503.5,1140.6 502,1141.2 500.5,1141.8 499,1141.7 497.5,1141.6 496,1141.5 494.5,1141.9 493,1142.3 491.5,1143.4 490,1145.7 488.5,1148.1 487,1148.5 485.5,1148.6 484,1148.7 482.5,1148.8 481,1149 479.5,1149.1 478,1147.2 476.5,1145.1 475,1144.4 473.5,1144.3 472,1144.5 470.5,1144.7 469,1144.8 467.5,1144.9 466,1145 464.5,1145 463,1145.2 461.5,1145.3 460,1145.4 458.5,1145.3 457,1145.3 455.5,1145.2 454,1145.2 452.5,1145.2 451,1145.2 449.5,1145.3 448,1145.4 446.5,1145.5 445,1145.6 443.5,1145.7 442,1145.8 440.5,1145.6 439,1145.4 437.5,1145.2 436,1145.5 434.5,1145.8 433,1146 431.5,1146.1 430,1146.1 428.5,1146.1 427,1145.9 425.5,1145.7 424,1145.4 422.5,1145.6 421,1145.8 419.5,1146.6 418,1147.5 416.5,1148 415,1147.9 413.5,1147.2 412,1146 410.5,1145.3 409,1145.3 407.5,1145.2 406,1145.1 404.5,1145.4 403,1145.7 401.5,1146 400,1146 398.5,1145.9 397,1145.8 395.5,1145.9 394,1145.9 392.5,1145.9 391,1145.8 389.5,1145.7 388,1145.5 386.5,1145.3 385,1145.2 383.5,1145 382,1145 380.5,1145 379,1144.9 377.5,1144.7 376,1144.5 374.5,1144.3 373,1144.2 371.5,1145.8 370,1147.3 368.5,1148 367,1147.5 365.5,1146.9 364,1147 362.5,1147 361,1147 359.5,1146.7 358,1145.3 356.5,1143.4 355,1141.5 353.5,1141.2 352,1141 350.5,1140.7 349,1140.4 347.5,1140.2 346,1140.2 344.5,1140.4 343,1140.5 341.5,1140.4 340,1140.3 338.5,1140.3 337,1140 335.5,1139.7 334,1139.5 332.5,1139.8 331,1140.1 329.5,1140.4 328,1140.5 326.5,1140.7 325,1140.9 323.5,1141.3 322,1141.8 320.5,1142.2 319,1142.5 317.5,1142.8 316,1143.1 314.5,1143.2 313,1143.3 311.5,1143.4 310,1143.8 308.5,1144.1 307,1144.4 305.5,1144.6 304,1144.8 302.5,1144.9 301,1144.9 299.5,1144.8 298,1144.7 296.5,1145.1 295,1145.4 293.5,1145.8 292,1145.8 290.5,1145.9 289,1145.9 287.5,1146 286,1146 284.5,1146 283,1145.9 281.5,1145.9 280,1145.8 278.5,1146 277,1146.3 275.5,1146.5 274,1146.5 272.5,1146.5 271,1146.5 269.5,1146.6 268,1146.7 266.5,1146.8 265,1146.7 263.5,1146.5 262,1146.4"/>
<polygon fill="#00a800" points="1074.5,1300.1 1076,1299.8 1077.5,1299.4 1079,1299.1 1080.5,1299.5 1082,1299.9 1083.5,1300.3 1085,1300 1086.5,1299.8 1088,1299.5 1089.5,1299.8 1091,1300.1 1092.5,1300.4 1094,1300.3 1095.5,1300.2 1097,1300.1 1098.5,1299.8 1100,1299.5 1101.5,1299.1 1103,1299.5 1104.5,1299.8 1106,1300.2 1107.5,1300 1109,1299.8 1110.5,1299.6 1112,1299.7 1113.5,1299.8 1115,1299.9 1116.5,1299.9 1118,1299.9 1119.5,1299.9 1121,1299.9 1122.5,1299.9 1124,1299.9 1125.5,1300 1127,1300.1 1128.5,1300.3 1130,1300 1131.5,1299.7 1133,1299.4 1134.5,1299.8 1136,1300.1 1137.5,1300.4 1139,1300.3 1140.5,1300.2 1142,1300.1 1143.5,1300.2 1145,1300.3 1146.5,1300.4 1148,1300.2 1149.5,1300.1 1151,1300 1152.5,1299.9 1154,1299.8 1155.5,1299.7 1157,1299.5 1158.5,1299.2 1160,1299 1161.5,1299.2 1163,1297.2 1164.5,1294.3 1166,1293.7 1167.5,1293.8 1169,1293.9 1170.5,1293.8 1172,1293.9 1173.5,1296.8 1175,1299.3 1176.5,1298.9 1178,1298.6 1179.5,1299 1181,1299.4 1182.5,1299.8 1184,1299.5 1185.5,1299.3 1187,1299 1188.5,1299.1 1190,1299.2 1191.5,1299.3 1193,1299.1 1194.5,1298.9 1196,1298.8 1197.5,1299 1199,1299.2 1200.5,1299.3 1202,1299.2 1203.5,1299 1205,1298.9 1206.5,1299 1208,1299.1 1209.5,1299.2 1211,1299.1 1212.5,1299.1 1214,1299 1215.5,1298.9 1217,1298.8 1218.5,1298.7 1220,1298.9 1221.5,1299 1223,1299.2 1224.5,1299.4 1226,1299.6 1227.5,1299.9 1229,1299.9 1230.5,1300 1232,1300 1233.5,1299.6 1235,1299.2 1236.5,1298.8 1238,1297.8 1239.5,1296.1 1241,1295.5 1242.5,1296.5 1244,1298.6 1245.5,1300 1247,1299.6 1248.5,1299.3 1250,1298.9 1251.5,1299.1 1253,1299.3 1254.5,1299.5 1256,1299.4 1257.5,1299.3 1259,1299.2 1260.5,1299.1 1262,1299 1263.5,1298.9 1265,1299.1 1266.5,1299.4 1268,1299.6 1269.5,1299.5 1271,1299.5 1272.5,1299.4 1274,1299.1 1275.5,1298.8 1277,1298.5 1278.5,1298.8 1280,1299.1 1281.5,1299.4 1283,1296.6 1284.5,1293.5 1286,1292.9 1287.5,1293.1 1289,1293.4 1290.5,1293.6 1292,1293.7 1293.5,1296.2 1295,1298.1 1296.5,1298 1298,1297.9 1299.5,1297.8 1301,1297.6 1302.5,1297.4 1304,1297.2 1305.5,1297.2 1307,1297.1 1308.5,1297.1 1310,1297.2 1311.5,1297.2 1313,1297.3 1314.5,1297.3 1316,1297.4 1317.5,1297.5 1319,1297.4 1320.5,1297.4 1322,1297.4 1323.5,1297.1 1325,1296.9 1326.5,1296.7 1328,1296.6 1329.5,1296.6 1331,1296.5 1332.5,1296.7 1334,1296.8 1335.5,1297 1337,1296.6 1338.5,1296.1 1340,1295.7 1341.5,1295.9 1343,1296.1 1344.5,1296.2 1346,1296.1 1347.5,1296 1349,1296 1350.5,1296.2 1352,1296.4 1353.5,1296.7 1355,1296.7 1356.5,1296.7 1358,1296.7 1359.5,1296.9 1361,1297 1362.5,1297.2 1364,1297.1 1365.5,1297 1367,1296.9 1368.5,1297 1370,1297.1 1371.5,1297.3 1373,1297.3 1374.5,1297.3 1376,1297.3 1377.5,1297.4 1379,1297.5 1380.5,1297.6 1382,1297.5 1383.5,1297.4 1385,1297.3 1386.5,1297.3 1388,1297.4 1389.5,1297.5 1391,1297.9 1392.5,1298.3 1394,1298.5 1395.5,1295.7 1397,1293.2 1398.5,1293.2 1400,1293.3 1401.5,1293.5 1403,1293.7 1404.5,1294.6 1406,1297.2 1407.5,1298.7 1409,1298.6 1410.5,1298.5 1412,1298.4 1413.5,1298.8 1415,1299.3 1416.5,1299.7 1418,1299.5 1419.5,1299.2 1421,1299 1422.5,1299.3 1424,1299.5 1425.5,1299.8 1427,1300 1428.5,1300.1 1430,1300.3 1431.5,1300 1433,1299.6 1434.5,1299.3 1436,1299.5 1437.5,1299.7 1439,1299.9 1440.5,1300 1442,1300.1 1443.5,1300.1 1445,1300 1446.5,1299.9 1448,1299.8 1449.5,1299.9 1451,1299.9 1452.5,1300 1454,1299.9 1455.5,1299.9 1457,1299.8 1458.5,1299.7 1460,1299.7 1461.5,1299.7 1463,1299.7 1464.5,1299.7 1466,1299.7 1467.5,1299.6 1469,1299.5 1470.5,1299.4 1472,1299.5 1473.5,1299.7 1475,1299.8 1476.5,1299.9 1478,1299.9 1479.5,1300 1481,1300 1482.5,1300 1484,1299.9 1485.5,1299.9 1487,1299.9 1488.5,1299.8 1490,1299.6 1491.5,1299.4 1493,1299.2 1494.5,1299.2 1496,1299.2 1497.5,1299.3 1499,1299 1500.5,1298.8 1502,1298.5 1503.5,1298.6 1505,1298.7 1506.5,1298.8 1508,1298.6 1509.5,1298.4 1511,1298.3 1512.5,1298.1 1514,1297.9 1515.5,1297.7 1517,1298 1518.5,1298.4 1520,1298.7 1521.5,1298.7 1523,1298.6 1524.5,1298.6 1526,1298.4 1527.5,1298.3 1529,1298.1 1530.5,1298 1532,1297.8 1533.5,1297.6 1535,1297.4 1536.5,1297.2 1538,1297.1 1539.5,1296.9 1541,1296.8 1542.5,1296.6 1544,1296.7 1545.5,1296.8 1547,1297 1548.5,1296.6 1550,1296.3 1551.5,1296 1553,1296.4 1554.5,1296.8 1556,1297.2 1557.5,1296.8 1559,1296.5 1560.5,1296.1 1562,1296.4 1563.5,1296.7 1565,1297 1566.5,1296.7 1568,1296.4 1569.5,1296.2 1571,1296.6 1572.5,1297 1574,1297.5 1575.5,1297.1 1577,1296.7 1578.5,1296.4 1580,1296.5 1581.5,1296.7 1583,1296.9 1584.5,1296.8 1586,1296.8 1587.5,1296.8 1589,1297 1590.5,1297.3 1592,1297.6 1593.5,1297.9 1595,1298.1 1596.5,1298.4 1598,1297.2 1599.5,1295.4 1601,1294.2 1602.5,1294.5 1604,1295.7 1605.5,1297.6 1607,1298.7 1608.5,1298.9 1610,1299.2 1611.5,1299 1613,1298.8 1614.5,1298.6 1616,1298.7 1617.5,1298.8 1619,1298.9 1620.5,1298.9 1622,1299 1623.5,1299 1625,1299.2 1626.5,1299.4 1628,1299.5 1629.5,1299.6 1631,1299.6 1632.5,1299.6 1634,1299.4 1635.5,1299.2 1637,1299 1638.5,1299.1 1640,1299.2 1641.5,1299.2 1643,1299.4 1644.5,1299.6 1646,1299.7 1647.5,1299.6 1649,1299.4 1650.5,1299.3 1652,1299.2 1653.5,1299 1655,1298.9 1656.5,1298.9 1658,1298.9 1659.5,1298.9 1661,1299 1662.5,1299.1 1664,1299.2 1665.5,1299.3 1667,1299.3 1668.5,1299.3 1670,1299.3 1671.5,1299.3 1673,1299.3 1674.5,1298.7 1676,1297.9 1677.5,1298 1679,1298.9 1680.5,1299.5 1682,1299.5 1683.5,1299.4 1685,1299.3 1686.5,1299.1 1688,1299.3 1689.5,1299.4 1691,1299.6 1692.5,1299.3 1694,1299 1695.5,1298.7 1697,1298.6 1698.5,1298.6 1700,1298.6 1701.5,1298.6 1703,1298.6 1704.5,1298.6 1706,1298.9 1707.5,1299.1 1709,1299.4 1710.5,1299.1 1712,1298.9 1713.5,1298.7 1715,1298.6 1716.5,1298.6 1718,1298.5 1719.5,1298.6 1721,1298.7 1722.5,1295.8 1724,1293.8 1725.5,1293.3 1727,1292.8 1728.5,1292.9 1730,1295.4 1731.5,1297.4 1733,1297.5 1734.5,1297.5 1736,1297.6 1737.5,1297.4 1739,1297.3 1740.5,1297.1 1742,1297.3 1743.5,1293.9 1745,1291.7 1746.5,1291.6 1748,1291.5 1749.5,1291.5 1751,1292.5 1752.5,1295.9 1754,1297 1755.5,1296.8 1757,1296.7 1758.5,1296.6 1760,1296.6 1761.5,1296.7 1763,1296.7 1764.5,1297 1766,1297.4 1767.5,1297.7 1769,1297.4 1770.5,1295.2 1772,1292.9 1773.5,1292.8 1775,1292.7 1776.5,1292.7 1778,1295.8 1779.5,1296.9 1781,1297.1 1782.5,1296.6 1784,1295.9 1785.5,1295.4 1787,1295.2 1788.5,1295.5 1790,1295.2 1791.5,1293.8 1793,1294.6 1794.5,1295 1796,1295.1 1797.5,1296.9 1799,1298.6 1800.5,1298.6 1802,1298.6 1803.5,1298.5 1805,1298.4 1806.5,1298.3 1808,1298.1 1809.5,1296.3 1811,1294.8 1812.5,1295.2 1814,1295 1815.5,1294.8 1817,1294.6 1818.5,1296.5 1820,1298.8 1821.5,1298.8 1823,1299.1 1824.5,1299.3 1826,1299.4 1827.5,1299.4 1829,1299.4 1830.5,1299.4 1832,1299.3 1833.5,1299.2 1835,1299 1836.5,1299.1 1838,1296.7 1839.5,1295.8 1841,1296.1 1842.5,1296.3 1844,1297.5 1845.5,1299.8 1847,1299.6 1848.5,1299.3 1850,1299.6 1851.5,1299.9 1853,1300.2 1854.5,1300.1 1856,1300 1857.5,1299.9 1859,1299.6 1860.5,1296.8 1862,1296 1863.5,1296 1865,1296 1866.5,1298.1 1868,1299.1 1869.5,1299.3 1871,1299.5 1872.5,1299.5 1874,1299.4 1875.5,1299.4 1877,1299.1 1878.5,1298.9 1880,1298.7 1881.5,1298.5 1883,1298.3 1884.5,1298.1 1886,1298.1 1887.5,1298.1 1889,1298.1 1890.5,1297.9 1892,1297.6 1893.5,1297.4 1895,1297.4 1896.5,1297.4 1898,1297.4 1899.5,1297.3 1901,1297.1 1902.5,1297 1904,1297 1905.5,1297 1907,1297 1908.5,1297 1910,1297 1911.5,1297 1913,1296.9 1914.5,1296.7 1916,1296.7 1917.5,1296.6 1919,1296.5 1920.5,1296.5 1922,1296.4 1923.5,1295.3 1925,1292 1926.5,1289.2 1928,1289.1 1929.5,1288.9 1931,1289.2 1932.5,1289.5 1934,1290.1 1935.5,1293.5 1937,1297 1938.5,1297.1 1940,1296.8 1941.5,1296.6 1943,1296.3 1944.5,1296.6 1946,1296.8 1947.5,1297.1 1949,1297.1 1950.5,1297.1 1952,1297.1 1953.5,1297.4 1955,1297.6 1956.5,1297.8 1958,1297.6 1959.5,1297.3 1961,1297.1 1962.5,1297.4 1964,1297.8 1965.5,1298.1 1967,1298.2 1968.5,1298.3 1970,1298.4 1971.5,1298.3 1973,1298.1 1974.5,1298 1976,1298.2 1977.5,1298.4 1979,1298.6 1980.5,1298.8 1982,1299 1983.5,1299.2 1985,1298.9 1986.5,1298.7 1988,1298.5 1989.5,1298.8 1991,1299 1992.5,1299.3 1994,1299.4 1995.5,1299.5 1997,1299.5 1998.5,1299.3 2000,1299 2001.5,1298.8 2003,1298.9 2004.5,1299 2006,1299.1 2007.5,1299.2 2009,1299.2 2010.5,1299.3 2012,1299.5 2013.5,1299.8 2015,1300.1 2016.5,1299.8 2018,1299.6 2019.5,1299.3 2021,1299.4 2022.5,1299.6 2024,1299.7 2025.5,1299.6 2027,1299.5 2028.5,1299.4 2030,1299.6 2031.5,1299.8 2033,1300.1 2034.5,1299.9 2036,1299.7 2037.5,1299.5 2039,1299.5 2040.5,1299.4 2042,1299.4 2043.5,1299.6 2045,1298.8 2046.5,1296.1 2048,1294.2 2049.5,1293.9 2051,1293.7 2052.5,1293.6 2054,1293.4 2055.5,1295 2057,1297.6 2058.5,1298.4 2060,1298.2 2061.5,1298.1 2063,1298 2064.5,1298 2066,1297.9 2067.5,1297.9 2069,1297.9 2070.5,1298.1 2072,1298.3 2073.5,1298.5 2075,1298.2 2076.5,1297.9 2078,1297.5 2079.5,1297.4 2081,1297.3 2082.5,1297.1 2084,1297.3 2085.5,1297.5 2087,1297.7 2088.5,1297.4 2090,1297.1 2091.5,1296.9 2093,1296.6 2094.5,1296.3 2096,1296 2097.5,1295.9 2099,1295.8 2100.5,1295.7 2102,1295.6 2103.5,1295.5 2105,1295.4 2106.5,1295.7 2108,1296 2109.5,1296.3 2111,1296 2112.5,1295.7 2114,1295.3 2115.5,1295.1 2117,1294.9 2118.5,1294.7 2120,1294.7 2121.5,1294.7 2123,1294.7 2124.5,1294.8 2126,1294.9 2127.5,1294.9 2129,1295 2130.5,1295 2132,1295.1 2133.5,1294.6 2135,1294.1 2136.5,1293.7 2138,1293.7 2139.5,1293.7 2141,1293.7 2141,1318.1 2139.5,1318.5 2138,1318.9 2136.5,1319.3 2135,1319.1 2133.5,1318.9 2132,1318.8 2130.5,1318.8 2129,1318.8 2127.5,1318.8 2126,1319 2124.5,1319.2 2123,1319.4 2121.5,1319.6 2120,1319.7 2118.5,1319.9 2117,1319.7 2115.5,1319.6 2114,1319.5 2112.5,1319.7 2111,1320 2109.5,1320.3 2108,1320.4 2106.5,1320.6 2105,1320.7 2103.5,1320.6 2102,1320.4 2100.5,1320.3 2099,1320.4 2097.5,1320.5 2096,1320.6 2094.5,1320.6 2093,1320.7 2091.5,1320.7 2090,1321 2088.5,1321.4 2087,1321.7 2085.5,1321.8 2084,1322 2082.5,1322.2 2081,1322 2079.5,1321.9 2078,1321.7 2076.5,1321.9 2075,1322.1 2073.5,1322.3 2072,1322.5 2070.5,1322.7 2069,1322.8 2067.5,1322.9 2066,1323 2064.5,1323.1 2063,1323.4 2061.5,1323.6 2060,1323.9 2058.5,1324 2057,1324 2055.5,1324.1 2054,1324.2 2052.5,1324.3 2051,1324.4 2049.5,1324.4 2048,1324.4 2046.5,1324.4 2045,1324.6 2043.5,1324.7 2042,1324.8 2040.5,1324.6 2039,1324.4 2037.5,1324.3 2036,1324.2 2034.5,1324.2 2033,1324.1 2031.5,1323.9 2030,1323.8 2028.5,1323.7 2027,1323.9 2025.5,1324.2 2024,1324.4 2022.5,1324.2 2021,1324.1 2019.5,1323.9 2018,1324.1 2016.5,1324.2 2015,1324.4 2013.5,1324.3 2012,1324.2 2010.5,1324 2009,1324.1 2007.5,1324.2 2006,1324.3 2004.5,1324.4 2003,1324.4 2001.5,1324.4 2000,1324.2 1998.5,1324.1 1997,1323.9 1995.5,1324 1994,1324 1992.5,1324 1991,1324.4 1989.5,1325.4 1988,1326 1986.5,1326.7 1985,1326.9 1983.5,1326.5 1982,1325.5 1980.5,1324.1 1979,1323.3 1977.5,1323 1976,1322.7 1974.5,1322.4 1973,1322.4 1971.5,1322.4 1970,1322.4 1968.5,1322.4 1967,1322.4 1965.5,1322.4 1964,1322.2 1962.5,1322.1 1961,1322 1959.5,1321.8 1958,1322.1 1956.5,1322.8 1955,1323.5 1953.5,1323.9 1952,1323.8 1950.5,1322.9 1949,1321.8 1947.5,1321.1 1946,1320.9 1944.5,1320.8 1943,1320.6 1941.5,1320.8 1940,1321 1938.5,1321.2 1937,1321 1935.5,1320.9 1934,1320.8 1932.5,1320.6 1931,1320.4 1929.5,1320.2 1928,1320.2 1926.5,1320.1 1925,1320.1 1923.5,1320.2 1922,1320.3 1920.5,1320.4 1919,1320.7 1917.5,1321 1916,1321.2 1914.5,1321.1 1913,1321 1911.5,1320.9 1910,1321.1 1908.5,1321.4 1907,1321.7 1905.5,1321.8 1904,1321.9 1902.5,1322 1901,1321.9 1899.5,1321.9 1898,1321.9 1896.5,1322.2 1895,1322.4 1893.5,1322.7 1892,1322.9 1890.5,1323.1 1889,1323.4 1887.5,1323.3 1886,1323.3 1884.5,1323.3 1883,1323.1 1881.5,1324.4 1880,1325.8 1878.5,1325.8 1877,1325.9 1875.5,1325.9 1874,1323.9 1872.5,1323.4 1871,1323.6 1869.5,1323.8 1868,1324.1 1866.5,1324.4 1865,1324.5 1863.5,1324.6 1862,1324.7 1860.5,1324.6 1859,1326.7 1857.5,1329.4 1856,1329.6 1854.5,1329.8 1853,1329.9 1851.5,1328 1850,1324.4 1848.5,1324.2 1847,1324.2 1845.5,1324.2 1844,1324.2 1842.5,1324 1841,1323.8 1839.5,1323.6 1838,1324 1836.5,1324.3 1835,1324.7 1833.5,1324.3 1832,1324.9 1830.5,1327.7 1829,1328.2 1827.5,1328.6 1826,1328.9 1824.5,1326.4 1823,1323.9 1821.5,1323.6 1820,1323.8 1818.5,1323.9 1817,1324.1 1815.5,1323.8 1814,1323.5 1812.5,1323.2 1811,1325.7 1809.5,1329 1808,1329.1 1806.5,1328.7 1805,1328.2 1803.5,1325.9 1802,1322.5 1800.5,1322.7 1799,1323 1797.5,1322.8 1796,1322.7 1794.5,1322.6 1793,1322.6 1791.5,1322.6 1790,1325.5 1788.5,1326.5 1787,1326.4 1785.5,1326.4 1784,1325.3 1782.5,1322.4 1781,1322.5 1779.5,1322.1 1778,1321.7 1776.5,1321.4 1775,1321.3 1773.5,1321.2 1772,1321.1 1770.5,1321.3 1769,1321.5 1767.5,1321.7 1766,1321.3 1764.5,1321 1763,1321.5 1761.5,1324.7 1760,1325.7 1758.5,1326.5 1757,1326.9 1755.5,1325.2 1754,1323.2 1752.5,1322.8 1751,1322.2 1749.5,1322 1748,1321.8 1746.5,1321.5 1745,1321.3 1743.5,1321.5 1742,1321.8 1740.5,1322 1739,1321.9 1737.5,1321.7 1736,1321.6 1734.5,1321.9 1733,1322.2 1731.5,1322.5 1730,1322.6 1728.5,1322.7 1727,1322.8 1725.5,1322.5 1724,1322.3 1722.5,1322 1721,1322.4 1719.5,1322.8 1718,1323.2 1716.5,1323 1715,1322.7 1713.5,1322.4 1712,1322.5 1710.5,1322.6 1709,1322.6 1707.5,1322.9 1706,1326 1704.5,1329 1703,1329 1701.5,1328.9 1700,1328.9 1698.5,1328.8 1697,1328.8 1695.5,1327.4 1694,1326.7 1692.5,1327.1 1691,1326.8 1689.5,1325.8 1688,1324.2 1686.5,1323.4 1685,1323.5 1683.5,1323.6 1682,1323.6 1680.5,1323.5 1679,1323.4 1677.5,1323.3 1676,1323.5 1674.5,1323.7 1673,1323.9 1671.5,1323.8 1670,1323.7 1668.5,1323.7 1667,1323.6 1665.5,1323.5 1664,1323.4 1662.5,1323.5 1661,1323.7 1659.5,1323.8 1658,1323.7 1656.5,1323.7 1655,1323.6 1653.5,1323.7 1652,1323.7 1650.5,1323.8 1649,1323.7 1647.5,1323.6 1646,1323.5 1644.5,1323.7 1643,1323.9 1641.5,1324.1 1640,1323.8 1638.5,1323.5 1637,1323.3 1635.5,1323.5 1634,1323.7 1632.5,1324 1631,1323.7 1629.5,1323.4 1628,1323.1 1626.5,1323.2 1625,1323.4 1623.5,1323.5 1622,1323.5 1620.5,1323.6 1619,1323.6 1617.5,1323.6 1616,1323.6 1614.5,1323.6 1613,1323.5 1611.5,1323.4 1610,1323.4 1608.5,1323.3 1607,1323.1 1605.5,1323 1604,1322.8 1602.5,1322.5 1601,1322.3 1599.5,1322.3 1598,1322.4 1596.5,1322.4 1595,1322.3 1593.5,1322.1 1592,1321.9 1590.5,1321.8 1589,1321.7 1587.5,1321.7 1586,1321.5 1584.5,1321.4 1583,1321.3 1581.5,1321.1 1580,1320.9 1578.5,1320.8 1577,1320.8 1575.5,1320.9 1574,1321 1572.5,1321.2 1571,1321.4 1569.5,1321.6 1568,1321.5 1566.5,1321.4 1565,1321.3 1563.5,1321 1562,1320.7 1560.5,1320.4 1559,1320.4 1557.5,1320.3 1556,1320.3 1554.5,1320.6 1553,1320.9 1551.5,1321.2 1550,1321.1 1548.5,1321.1 1547,1321 1545.5,1321.3 1544,1321.5 1542.5,1321.8 1541,1321.6 1539.5,1321.5 1538,1321.4 1536.5,1321.4 1535,1321.5 1533.5,1321.6 1532,1321.7 1530.5,1321.8 1529,1321.9 1527.5,1321.9 1526,1321.9 1524.5,1321.9 1523,1322 1521.5,1322 1520,1322.1 1518.5,1322.3 1517,1322.5 1515.5,1322.7 1514,1322.9 1512.5,1323 1511,1323.2 1509.5,1323.4 1508,1323.6 1506.5,1326.6 1505,1329.2 1503.5,1329.4 1502,1329.1 1500.5,1329.5 1499,1329.8 1497.5,1330.1 1496,1327.8 1494.5,1324.9 1493,1323.8 1491.5,1323.8 1490,1323.8 1488.5,1323.8 1487,1323.6 1485.5,1323.4 1484,1323.1 1482.5,1323.6 1481,1324.1 1479.5,1324.5 1478,1324.1 1476.5,1323.7 1475,1323.3 1473.5,1323.8 1472,1324.2 1470.5,1324.6 1469,1324.4 1467.5,1324.3 1466,1324.2 1464.5,1324.1 1463,1324 1461.5,1323.9 1460,1324.2 1458.5,1324.4 1457,1324.7 1455.5,1324.3 1454,1323.9 1452.5,1323.5 1451,1323.8 1449.5,1324 1448,1324.2 1446.5,1324 1445,1323.8 1443.5,1323.6 1442,1323.6 1440.5,1323.6 1439,1323.5 1437.5,1323.8 1436,1324.1 1434.5,1324.4 1433,1324.1 1431.5,1324.6 1430,1325.8 1428.5,1326.8 1427,1327 1425.5,1326.4 1424,1324.9 1422.5,1324.1 1421,1324.1 1419.5,1324.6 1418,1325.6 1416.5,1325.8 1415,1325.6 1413.5,1324.6 1412,1324.1 1410.5,1323.8 1409,1323.5 1407.5,1323.1 1406,1322.9 1404.5,1322.7 1403,1322.5 1401.5,1322.6 1400,1322.7 1398.5,1322.8 1397,1322.6 1395.5,1322.3 1394,1322.1 1392.5,1322.3 1391,1322.5 1389.5,1322.6 1388,1322.6 1386.5,1322.6 1385,1322.6 1383.5,1322.5 1382,1322.3 1380.5,1322.2 1379,1322 1377.5,1321.8 1376,1321.6 1374.5,1321.4 1373,1321.2 1371.5,1320.9 1370,1320.9 1368.5,1320.9 1367,1320.8 1365.5,1321.1 1364,1321.3 1362.5,1321.5 1361,1321.3 1359.5,1321.1 1358,1320.8 1356.5,1321 1355,1321.2 1353.5,1321.3 1352,1321.1 1350.5,1320.9 1349,1320.6 1347.5,1320.8 1346,1321 1344.5,1321.1 1343,1320.8 1341.5,1320.5 1340,1320.2 1338.5,1320.4 1337,1320.6 1335.5,1320.8 1334,1320.9 1332.5,1321 1331,1321.2 1329.5,1321.1 1328,1320.9 1326.5,1320.8 1325,1321 1323.5,1321.2 1322,1321.3 1320.5,1321.5 1319,1321.7 1317.5,1321.9 1316,1321.8 1314.5,1321.6 1313,1321.5 1311.5,1321.7 1310,1321.8 1308.5,1322 1307,1322.3 1305.5,1322.6 1304,1322.9 1302.5,1322.9 1301,1322.8 1299.5,1322.8 1298,1323 1296.5,1323.2 1295,1323.3 1293.5,1323.4 1292,1323.5 1290.5,1323.5 1289,1323.4 1287.5,1323.3 1286,1323.2 1284.5,1323.5 1283,1323.7 1281.5,1323.9 1280,1323.7 1278.5,1323.5 1277,1323.3 1275.5,1323.5 1274,1323.6 1272.5,1323.7 1271,1323.8 1269.5,1323.8 1268,1323.8 1266.5,1324 1265,1324.2 1263.5,1324.4 1262,1324 1260.5,1323.6 1259,1323.3 1257.5,1323.7 1256,1324 1254.5,1324.4 1253,1324.1 1251.5,1323.8 1250,1323.5 1248.5,1323.6 1247,1323.7 1245.5,1323.8 1244,1323.7 1242.5,1323.7 1241,1323.6 1239.5,1323.5 1238,1323.4 1236.5,1323.3 1235,1323.7 1233.5,1324.1 1232,1324.4 1230.5,1324.4 1229,1324.4 1227.5,1324.5 1226,1324.4 1224.5,1324.4 1223,1324.3 1221.5,1324.1 1220,1324 1218.5,1323.8 1217,1323.7 1215.5,1323.7 1214,1323.6 1212.5,1323.7 1211,1323.8 1209.5,1323.9 1208,1324 1206.5,1324 1205,1324.1 1203.5,1323.8 1202,1323.5 1200.5,1323.3 1199,1323.3 1197.5,1323.4 1196,1323.5 1194.5,1323.6 1193,1323.8 1191.5,1323.9 1190,1323.9 1188.5,1323.9 1187,1323.9 1185.5,1323.8 1184,1323.7 1182.5,1323.7 1181,1323.5 1179.5,1323.3 1178,1323 1176.5,1323.1 1175,1323.1 1173.5,1323.2 1172,1323.5 1170.5,1323.8 1169,1324.1 1167.5,1323.9 1166,1323.7 1164.5,1323.4 1163,1323.5 1161.5,1323.6 1160,1323.6 1158.5,1323.6 1157,1323.6 1155.5,1323.6 1154,1323.6 1152.5,1323.5 1151,1323.5 1149.5,1323.8 1148,1324.2 1146.5,1324.5 1145,1324.4 1143.5,1324.2 1142,1324.1 1140.5,1324.1 1139,1324.1 1137.5,1324.1 1136,1324 1134.5,1324 1133,1323.9 1131.5,1323.9 1130,1323.8 1128.5,1323.8 1127,1323.9 1125.5,1324 1124,1324 1122.5,1324.2 1121,1324.4 1119.5,1324.6 1118,1324.3 1116.5,1326.6 1115,1327.7 1113.5,1327.9 1112,1328.1 1110.5,1328.3 1109,1325.9 1107.5,1324.1 1106,1324 1104.5,1324 1103,1324 1101.5,1324 1100,1324 1098.5,1323.9 1097,1323.9 1095.5,1323.9 1094,1323.9 1092.5,1323.9 1091,1324.1 1089.5,1324.2 1088,1324.3 1086.5,1324.4 1085,1324.4 1083.5,1324.5 1082,1324.5 1080.5,1324.6 1079,1324.6 1077.5,1324.6 1076,1324.6 1074.5,1324.6"/>
<rect fill="#1e8cff" x="2138" y="1301" width="9" height="20" rx="4"/>
<rect fill="#00a800" x="2134" y="1294.5" width="12" height="24.5" rx="4"/>
<polyline fill="none" stroke="#00a800" stroke-width="12.8" stroke-linejoin="miter" stroke-miterlimit="20" points="975,1132.6 982,1122 1000.1,964 1011.8,1150 1018.9,1285 1027.7,1388.4 1031.5,1402"/>
<polygon fill="#00a800" points="1029.5,1410.5 1042.5,1410.5 1050.5,1398 1054,1372.5 1058.5,1371 1061,1348.6 1067.4,1347 1069,1336 1075.3,1325 1084,1324 1084,1299.5 1074.5,1299.5 1073.7,1305 1066.5,1305.7 1065.8,1315.2 1057.8,1316.8 1056.3,1336 1049.9,1337.5 1048.3,1355 1041.2,1360 1040.4,1382 1034,1382 1032.5,1392 1027,1392"/>
</g>
<line class="box" x1="265" y1="965" x2="2142" y2="965"/>
<line class="box" x1="265" y1="1416" x2="2142" y2="1416"/>
<line class="box" x1="266" y1="964" x2="266" y2="1417"/>
<line class="box" x1="2141" y1="964" x2="2141" y2="1417"/>
<line class="tick" x1="268" y1="1421" x2="268" y2="1447"/>
<line class="tick" x1="503" y1="1421" x2="503" y2="1447"/>
<line class="tick" x1="737" y1="1421" x2="737" y2="1447"/>
<line class="tick" x1="972" y1="1421" x2="972" y2="1447"/>
<line class="tick" x1="1206" y1="1421" x2="1206" y2="1447"/>
<line class="tick" x1="1441" y1="1421" x2="1441" y2="1447"/>
<line class="tick" x1="1675" y1="1421" x2="1675" y2="1447"/>
<line class="tick" x1="1910" y1="1421" x2="1910" y2="1447"/>
<line class="tick" x1="235" y1="994" x2="261" y2="994"/>
<line class="tick" x1="235" y1="1140" x2="261" y2="1140"/>
<line class="tick" x1="235" y1="1285" x2="261" y2="1285"/>
<text class="sans tl" font-size="74.6" text-anchor="middle" x="267.5" y="1507.0">6.7</text>
<text class="sans tl" font-size="74.6" text-anchor="middle" x="502.6" y="1507.0">6.8</text>
<text class="sans tl" font-size="74.6" text-anchor="middle" x="736.3" y="1507.0">6.9</text>
<text class="sans tl" font-size="74.6" text-anchor="middle" x="971.2" y="1507.0">7.0</text>
<text class="sans tl" font-size="74.6" text-anchor="middle" x="1205.4" y="1507.0">7.1</text>
<text class="sans tl" font-size="74.6" text-anchor="middle" x="1440.3" y="1507.0">7.2</text>
<text class="sans tl" font-size="74.6" text-anchor="middle" x="1674.2" y="1507.0">7.3</text>
<text class="sans tl" font-size="74.6" text-anchor="middle" x="1909.1" y="1507.0">7.4</text>
<text class="sans tl" font-size="74.6" text-anchor="end" x="228.2" y="1010.3">750</text>
<text class="sans tl" font-size="74.6" text-anchor="end" x="228.2" y="1156.2">700</text>
<text class="sans tl" font-size="74.6" text-anchor="end" x="228.2" y="1301.3">650</text>
<text class="sans" font-size="62.5" transform="translate(89.3 1493.2) rotate(-90) scale(0.979 1)">Reactive Power<tspan font-size="65.2" dy="-0.8">(</tspan><tspan dy="0.8">Var</tspan><tspan font-size="65.2" dy="-0.8">)</tspan></text>
<text class="sans" font-size="65.5" stroke="#000" stroke-width="0.5" transform="translate(1106.3 1588) scale(1.02 1)">Time(s)</text>
</g>
<text class="serif se" font-size="87" text-anchor="middle" transform="translate(1211.2 836) scale(1.035 1)">(a)</text>
<text class="serif se" font-size="87" text-anchor="middle" transform="translate(1198.6 1673) scale(1.035 1)">(b)</text>
<g id="annotations">
<rect class="lab" x="362" y="59.8" width="412" height="118.8"/>
<text class="serif sb" font-size="80" x="399" y="134.5">LPF-droop</text>
<line x1="577.5" y1="181.5" x2="654.7" y2="291" stroke="#000" stroke-width="8.6"/>
<polygon fill="#000" points="666.2,307.3 644.8,295.5 662.3,283.2"/>
<rect class="lab" x="1150" y="40.1" width="553.7" height="116.5"/>
<text class="serif sb" font-size="71.5" x="1175.2" y="117.3">Combined SOGI</text>
<line x1="1365.8" y1="150.2" x2="1443.1" y2="259.9" stroke="#000" stroke-width="8.6"/>
<polygon fill="#000" points="1454.6,276.2 1433.2,264.4 1450.7,252.1"/>
<rect class="lab" x="1739" y="798.1" width="412" height="117.8"/>
<text class="serif se" font-size="53.5" letter-spacing="2.5" x="1754.9" y="868.9">LPF</text>
<text font-family="'Noto Serif CJK SC','Noto Sans CJK SC',serif" font-weight="700" font-size="50" transform="translate(1847.8 871.2) scale(1.05 0.85)">：</text>
<text class="serif" font-style="italic" font-size="56" transform="translate(1898.4 869.4) scale(1.2 0.95) skewX(-10)">f</text>
<text class="serif" font-style="italic" font-size="31" x="1924" y="882.6">c</text>
<text class="serif" font-size="60" transform="translate(1955.3 872.9) scale(1.057 0.92)">=</text>
<text class="serif se" font-size="54.5" letter-spacing="1.0" x="1999.7" y="868.9">0.3Hz</text>
<line x1="1944.8" y1="915" x2="1846.8" y2="998.8" stroke="#000" stroke-width="8.6"/>
<polygon fill="#000" points="1831.6,1011.8 1841.4,989.4 1855.3,1005.6"/>
<rect class="lab" x="621.1" y="1183.2" width="273.7" height="117.5"/>
<text class="serif" font-style="italic" font-size="56" transform="translate(637.7 1262.4) scale(1.2 0.95) skewX(-10)">f</text>
<text class="serif" font-style="italic" font-size="31" x="663.9" y="1275.9">c</text>
<text class="serif" font-size="31" x="682" y="1275.9">2</text>
<text class="serif" font-size="60" transform="translate(713.7 1266.5) scale(1.057 0.92)">=</text>
<text class="serif se" font-size="54.5" letter-spacing="1.8" x="756.8" y="1262.5">30Hz</text>
<line x1="893.4" y1="1274.7" x2="1002.2" y2="1213.4" stroke="#000" stroke-width="8.6"/>
<polygon fill="#000" points="1019.6,1203.6 1005.7,1223.7 995.2,1205.1"/>
<rect class="lab" x="646.1" y="1335" width="273.7" height="117.5"/>
<text class="serif" font-style="italic" font-size="56" transform="translate(665.5 1414.2) scale(1.2 0.95) skewX(-10)">f</text>
<text class="serif" font-style="italic" font-size="31" x="691.7" y="1427.7">c</text>
<text class="serif" font-size="31" x="709.8" y="1427.7">2</text>
<text class="serif" font-size="60" transform="translate(741.5 1418.3) scale(1.057 0.92)">=</text>
<text class="serif se" font-size="54.5" letter-spacing="0.8" x="781.8" y="1414.3">15Hz</text>
<line x1="919.8" y1="1387.8" x2="1044.5" y2="1275.4" stroke="#000" stroke-width="8.6"/>
<polygon fill="#000" points="1059.4,1262 1050.2,1284.7 1035.9,1268.8"/>
<rect class="lab" x="1317.1" y="1130.8" width="273.7" height="117.5"/>
<text class="serif" font-style="italic" font-size="56" transform="translate(1336.5 1210) scale(1.2 0.95) skewX(-10)">f</text>
<text class="serif" font-style="italic" font-size="31" x="1362.7" y="1223.5">c</text>
<text class="serif" font-size="31" x="1380.8" y="1223.5">2</text>
<text class="serif" font-size="60" transform="translate(1412.5 1214.1) scale(1.057 0.92)">=</text>
<text class="serif se" font-size="54.5" letter-spacing="1.4" x="1455.6" y="1210.1">7.5Hz</text>
<line x1="1318" y1="1210.2" x2="1186.4" y2="1220.3" stroke="#000" stroke-width="8.6"/>
<polygon fill="#000" points="1166.5,1221.8 1187.6,1209.5 1189.3,1230.8"/>
</g>
</svg></body></html>
